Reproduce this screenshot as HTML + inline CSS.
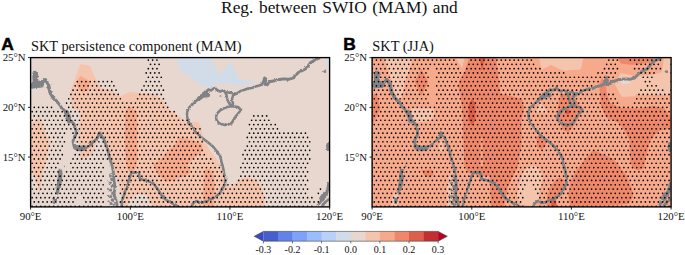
<!DOCTYPE html>
<html><head><meta charset="utf-8"><title>Reg. between SWIO (MAM) and SKT</title>
<style>
html,body{margin:0;padding:0;background:#fff;}
body{width:685px;height:255px;overflow:hidden;}
svg{display:block;}
text{font-family:"Liberation Serif","DejaVu Serif",serif;fill:#111;}
.tk{font-size:10.8px;}
.cb{font-size:10px;}
.ttl{font-size:16.7px;word-spacing:1.2px;}
.pt{font-size:14.35px;}
.lab{font-family:"Liberation Sans","DejaVu Sans",sans-serif;font-weight:bold;font-size:17.4px;fill:#000;stroke:#000;stroke-width:0.5px;}
</style></head>
<body>
<svg width="685" height="255" viewBox="0 0 685 255">
<defs>
<pattern id="dots" x="-6.585" y="60.040" width="4.3035" height="8.6" patternUnits="userSpaceOnUse">
<circle cx="0" cy="0" r="0.84" fill="#000"/><circle cx="4.3035" cy="0" r="0.84" fill="#000"/>
<circle cx="0" cy="8.6" r="0.84" fill="#000"/><circle cx="4.3035" cy="8.6" r="0.84" fill="#000"/>
<circle cx="2.15175" cy="4.3" r="0.84" fill="#000"/>
</pattern>
<filter id="rough" x="-5%" y="-5%" width="110%" height="110%"><feTurbulence type="fractalNoise" baseFrequency="0.45" numOctaves="3" seed="3" result="n"/><feDisplacementMap in="SourceGraphic" in2="n" scale="2.6" xChannelSelector="R" yChannelSelector="G"/></filter>
<clipPath id="ca"><rect x="30.6" y="57.6" width="299.0" height="149.3"/></clipPath>
<clipPath id="cb"><rect x="372.1" y="57.6" width="299.0" height="149.3"/></clipPath>
</defs>
<rect width="685" height="255" fill="#fff"/>
<text transform="translate(221.1,13) scale(1.04,1)" x="0" y="0" class="ttl">Reg. between SWIO (MAM) and</text>
<text x="1.3" y="50" class="lab">A</text>
<text x="343.2" y="50" class="lab">B</text>
<text x="31" y="50.6" class="pt">SKT persistence component (MAM)</text>
<text x="372.3" y="50.6" class="pt">SKT (JJA)</text>
<g clip-path="url(#ca)">
<rect x="30.6" y="57.6" width="299.0" height="149.3" fill="#e7d7ce"/>
<path d="M176.7,56.0 L208.8,56.0 L219.8,74.5 L230.5,62.0 L239.5,78.9 L257.0,82.1 L239.5,86.2 L230.0,83.8 L217.6,84.0 L209.6,87.7 L200.0,84.7 L191.3,77.4 L180.4,71.6 Z" fill="#d2dbe8" />
<path d="M29.0,56.0 L33.8,56.0 L31.6,66.5 L29.0,66.5 Z" fill="#d2dbe8" />
<path d="M117.4,56.0 L123.6,56.0 L120.5,60.8 Z" fill="#d2dbe8" />
<path d="M324.3,56.5 L331.0,56.5 L331.0,72.5 L329.3,72.5 Z" fill="#d2dbe8" />
<path d="M80.4,64.0 L89.9,65.8 L94.2,76.0 L97.2,81.1 L100.3,87.7 L112.4,91.0 L120.0,96.5 L130.0,92.1 L146.4,93.2 L154.0,94.0 L162.8,100.6 L169.4,110.0 L181.1,117.4 L186.2,121.7 L198.6,121.7 L201.5,129.8 L202.0,133.4 L208.6,148.7 L213.0,155.0 L217.3,159.8 L222.8,170.8 L227.2,184.0 L230.5,187.2 L239.0,180.0 L245.9,176.9 L255.8,179.6 L262.4,188.3 L264.0,197.0 L264.6,208.0 L153.0,208.0 L146.4,195.0 L137.6,193.8 L130.0,199.0 L126.6,208.0 L122.2,208.0 L121.1,195.0 L117.9,179.6 L110.2,164.2 L105.8,151.0 L103.7,139.1 L99.7,132.8 L98.2,136.8 L95.0,146.0 L91.9,155.6 L86.0,157.5 L80.9,158.8 L80.0,153.3 L79.3,145.4 L78.5,137.6 L79.3,125.0 L80.0,118.8 L81.1,110.8 L72.3,108.6 L71.6,102.8 L70.1,94.0 L70.1,92.8 L73.8,81.8 Z" fill="#f5c4ac" />
<path d="M29.0,125.4 L40.2,117.1 L44.6,131.0 L49.7,142.7 L47.5,154.4 L44.6,168.0 L43.0,170.0 L39.9,193.2 L32.0,170.0 L29.0,165.0 Z" fill="#f5c4ac" />
<path d="M80.4,75.7 L90.6,81.5 L88.0,90.0 L82.5,92.5 L78.0,88.0 L76.5,82.0 Z" fill="#f7a98b" />
<path d="M130.0,106.4 L136.6,110.8 L137.5,130.0 L137.5,160.0 L136.0,168.0 L131.0,173.5 L127.0,168.0 L124.8,150.0 L124.8,125.0 L125.6,110.0 Z" fill="#f7a98b" />
<path d="M180.0,138.0 L193.2,140.0 L202.0,144.3 L203.0,151.0 L193.0,158.6 L188.0,165.0 L191.0,172.0 L186.0,176.0 L180.0,177.4 L172.0,180.5 L166.2,181.7 L158.0,175.0 L153.0,164.2 L159.6,160.0 L168.0,151.0 L175.0,144.3 Z" fill="#f7a98b" />
<path d="M204.0,170.0 L210.0,168.6 L214.0,176.0 L215.0,190.0 L213.0,208.0 L203.0,208.0 L203.5,185.0 Z" fill="#f7a98b" />
<g filter="url(#rough)">
<path d="M29.0,86.0 L33.0,85.0 L36.0,84.5 L40.5,84.3 L45.3,79.6 L48.4,84.4 L50.0,92.3 L53.1,97.8 L57.0,101.7 L59.0,104.0 L61.0,107.0 L64.0,110.0 L67.0,113.0 L68.5,117.0 L69.0,120.0 L72.0,122.0 L74.0,124.0 L75.0,127.0 L76.0,131.0 L76.2,134.4 L74.5,137.5 L73.0,140.7 L73.5,144.0 L74.0,146.5 L77.0,147.5 L80.0,148.5 L84.8,148.0 L88.8,146.2 L93.5,141.5 L97.4,138.3 L99.7,132.8 L101.0,135.0 L103.7,139.1 L105.5,144.0 L107.6,148.5 L108.5,153.0 L110.0,159.5 L112.0,165.0 L113.5,173.0 L114.0,180.0 L115.0,187.0 L114.0,195.0 L116.0,200.0 L117.5,208.0" fill="none" stroke="#808285" stroke-width="2.72" stroke-linejoin="round" stroke-linecap="round"/>
<path d="M35.3,73.6 L35.3,78.0 L35.8,84.0" fill="none" stroke="#808285" stroke-width="5.779999999999999" stroke-linejoin="round" stroke-linecap="round"/>
<path d="M33.0,85.2 L36.0,84.5 L40.5,84.3" fill="none" stroke="#808285" stroke-width="6.8" stroke-linejoin="round" stroke-linecap="round"/>
<path d="M40.5,84.3 L45.3,79.6 L48.4,84.4 L50.0,92.3 L53.1,97.8 L57.0,101.7" fill="none" stroke="#808285" stroke-width="3.23" stroke-linejoin="round" stroke-linecap="round"/>
<path d="M66.5,112.5 L68.5,117.0 L69.3,121.0" fill="none" stroke="#808285" stroke-width="5.1" stroke-linejoin="round" stroke-linecap="round"/>
<path d="M76.0,147.5 L80.0,148.6 L84.0,148.0" fill="none" stroke="#808285" stroke-width="5.44" stroke-linejoin="round" stroke-linecap="round"/>
<circle cx="110.5" cy="176" r="1.4" fill="#808285"/>
<circle cx="112.0" cy="179.5" r="1.7" fill="#808285"/>
<circle cx="110.0" cy="183" r="1.5" fill="#808285"/>
<circle cx="112.5" cy="186.5" r="1.8" fill="#808285"/>
<circle cx="110.5" cy="190" r="1.6" fill="#808285"/>
<circle cx="113.0" cy="193" r="1.8" fill="#808285"/>
<circle cx="110.8" cy="196.5" r="1.6" fill="#808285"/>
<circle cx="112.5" cy="200" r="1.8" fill="#808285"/>
<circle cx="111.0" cy="203.5" r="1.6" fill="#808285"/>
<circle cx="113.8" cy="204.5" r="1.3" fill="#808285"/>
<circle cx="108.0" cy="189" r="1.0" fill="#808285"/>
<circle cx="108.3" cy="196" r="1.1" fill="#808285"/>
<circle cx="108.6" cy="201.5" r="1.1" fill="#808285"/>
<circle cx="115.0" cy="183" r="1.1" fill="#808285"/>
<circle cx="115.5" cy="190" r="1.0" fill="#808285"/>
<circle cx="107.8" cy="182" r="0.8" fill="#808285"/>
<circle cx="114.0" cy="176.5" r="1.0" fill="#808285"/>
<circle cx="115.5" cy="197" r="0.9" fill="#808285"/>
<path d="M121.1,208.0 L122.3,200.0 L124.3,194.0 L126.4,188.3 L128.6,181.0 L130.2,176.0 L131.6,172.6 L136.0,172.2 L139.0,172.6 L139.4,176.0 L140.0,179.2 L144.0,180.0 L149.4,181.6 L153.0,183.0 L155.5,186.3 L159.0,191.0 L161.6,195.5 L164.5,198.5 L167.7,200.9 L171.5,203.0 L175.4,204.7 L180.0,208.0" fill="none" stroke="#808285" stroke-width="2.55" stroke-linejoin="round" stroke-linecap="round"/>
<path d="M190.7,208.0 L193.5,203.0 L196.8,200.9 L200.0,203.0 L202.9,202.4 L208.6,200.4 L215.1,197.0 L219.5,193.8 L222.0,189.4 L225.0,184.0 L225.1,177.2 L224.0,173.0 L223.0,167.0 L221.7,163.0 L220.6,157.5 L217.0,151.5 L213.0,146.5 L207.5,142.0 L202.0,137.7 L198.0,134.0 L195.0,131.0 L192.8,127.6 L190.0,124.0 L188.4,121.7 L186.9,115.9 L187.2,112.0 L188.4,108.6 L190.5,106.0 L192.8,104.2 L196.0,101.0 L198.6,99.1 L201.0,96.0 L203.0,93.5 L206.0,92.0 L208.5,89.5 L211.0,90.5 L214.7,87.7 L217.0,90.0 L220.0,91.5 L223.0,90.5 L226.0,92.5 L230.0,92.5" fill="none" stroke="#808285" stroke-width="2.55" stroke-linejoin="round" stroke-linecap="round"/>
<path d="M199.0,98.5 L203.0,95.5 L208.0,95.0" fill="none" stroke="#808285" stroke-width="4.42" stroke-linejoin="round" stroke-linecap="round"/>
<path d="M224.5,91.0 L226.5,95.0 L227.5,100.0 L229.5,104.0 L231.5,105.5 L233.0,104.0 L232.0,99.0 L233.0,95.5 L237.0,93.3" fill="none" stroke="#808285" stroke-width="2.55" stroke-linejoin="round" stroke-linecap="round"/>
<path d="M230.0,92.5 L233.5,93.5 L237.0,93.5 L240.5,91.0 L244.6,89.8 L248.0,88.5 L252.0,88.0 L255.5,86.5 L259.2,85.5 L262.0,84.5" fill="none" stroke="#808285" stroke-width="2.72" stroke-linejoin="round" stroke-linecap="round"/>
<path d="M262.0,84.5 L263.5,81.0 L264.8,77.5 L266.0,79.0 L265.5,82.5 L267.3,85.0 L268.5,83.0 L270.0,81.5" fill="none" stroke="#808285" stroke-width="2.55" stroke-linejoin="round" stroke-linecap="round"/>
<path d="M264.8,78.5 L265.5,84.5" fill="none" stroke="#808285" stroke-width="3.23" stroke-linejoin="round" stroke-linecap="round"/>
<path d="M270.0,81.5 L273.8,81.0 L277.0,79.5 L280.5,79.3 L284.0,78.9 L288.0,79.3 L292.8,78.2 L295.5,75.5 L298.6,72.3 L302.0,70.8 L305.9,68.7 L308.5,65.5 L310.3,62.8 L314.0,60.5 L319.0,58.3" fill="none" stroke="#808285" stroke-width="2.8899999999999997" stroke-linejoin="round" stroke-linecap="round"/>
<circle cx="220.5" cy="96.2" r="0.9" fill="#808285"/>
<path d="M230.0,106.5 L234.0,106.6 L238.0,107.0 L241.0,110.0 L238.5,113.0 L236.0,116.0 L233.5,120.0 L231.5,123.2 L228.0,124.5 L225.0,125.0 L221.0,124.0 L218.3,122.5 L216.5,120.0 L216.1,117.4 L216.5,115.0 L217.6,113.0 L220.0,110.5 L223.4,108.6 L227.0,107.0 Z" fill="none" stroke="#808285" stroke-width="2.55" stroke-linejoin="round" stroke-linecap="round"/>
<ellipse cx="324.9" cy="71.6" rx="1.6" ry="1.3" fill="#808285"/>
<path d="M328.3,143.5 L327.6,147.0 L328.5,150.5" fill="none" stroke="#808285" stroke-width="3.06" stroke-linejoin="round" stroke-linecap="round"/>
<path d="M318.5,204.0 L321.0,200.5 L323.5,197.0 L326.0,194.0 L328.0,189.0 L328.8,184.0" fill="none" stroke="#808285" stroke-width="3.4" stroke-linejoin="round" stroke-linecap="round"/>
<path d="M322.0,198.5 L325.0,194.5" fill="none" stroke="#808285" stroke-width="5.44" stroke-linejoin="round" stroke-linecap="round"/>
<path d="M322.5,205.5 L325.5,202.0 L328.5,199.5" fill="none" stroke="#808285" stroke-width="2.72" stroke-linejoin="round" stroke-linecap="round"/>
<circle cx="319.3" cy="200.3" r="1.1" fill="#f5c4ac"/>
<path d="M60.1,170.5 L59.8,176.0 L59.2,182.0 L58.2,188.0 L57.2,193.0" fill="none" stroke="#808285" stroke-width="3.4" stroke-linejoin="round" stroke-linecap="round"/>
<path d="M60.3,172.0 L59.8,180.0 L58.8,186.0" fill="none" stroke="#808285" stroke-width="4.42" stroke-linejoin="round" stroke-linecap="round"/>
<path d="M54.5,199.8 L54.2,202.5" fill="none" stroke="#808285" stroke-width="2.72" stroke-linejoin="round" stroke-linecap="round"/>
<circle cx="64.0" cy="166.4" r="0.8" fill="#808285"/>
<path d="M54.6,199.5 L54.2,202.3" fill="none" stroke="#808285" stroke-width="3.4" stroke-linejoin="round" stroke-linecap="round"/>
</g>
<path d="M148.34,60.04h0M152.64,60.04h0M156.95,60.04h0M150.49,64.34h0M154.80,64.34h0M159.10,64.34h0M148.34,68.64h0M152.64,68.64h0M156.95,68.64h0M146.19,72.94h0M150.49,72.94h0M154.80,72.94h0M159.10,72.94h0M148.34,77.24h0M152.64,77.24h0M156.95,77.24h0M161.25,77.24h0M77.33,81.54h0M81.64,81.54h0M85.94,81.54h0M90.24,81.54h0M94.55,81.54h0M98.85,81.54h0M103.15,81.54h0M107.46,81.54h0M111.76,81.54h0M146.19,81.54h0M150.49,81.54h0M154.80,81.54h0M159.10,81.54h0M75.18,85.84h0M79.48,85.84h0M83.79,85.84h0M88.09,85.84h0M92.40,85.84h0M96.70,85.84h0M101.00,85.84h0M105.31,85.84h0M109.61,85.84h0M113.91,85.84h0M144.04,85.84h0M148.34,85.84h0M152.64,85.84h0M156.95,85.84h0M161.25,85.84h0M73.03,90.14h0M77.33,90.14h0M81.64,90.14h0M85.94,90.14h0M90.24,90.14h0M94.55,90.14h0M98.85,90.14h0M103.15,90.14h0M107.46,90.14h0M111.76,90.14h0M116.06,90.14h0M141.89,90.14h0M146.19,90.14h0M150.49,90.14h0M154.80,90.14h0M159.10,90.14h0M163.40,90.14h0M70.88,94.44h0M75.18,94.44h0M79.48,94.44h0M83.79,94.44h0M88.09,94.44h0M92.40,94.44h0M96.70,94.44h0M101.00,94.44h0M105.31,94.44h0M109.61,94.44h0M113.91,94.44h0M118.22,94.44h0M139.73,94.44h0M144.04,94.44h0M148.34,94.44h0M152.64,94.44h0M156.95,94.44h0M161.25,94.44h0M68.73,98.74h0M73.03,98.74h0M77.33,98.74h0M81.64,98.74h0M85.94,98.74h0M90.24,98.74h0M94.55,98.74h0M98.85,98.74h0M103.15,98.74h0M107.46,98.74h0M111.76,98.74h0M116.06,98.74h0M120.37,98.74h0M137.58,98.74h0M141.89,98.74h0M146.19,98.74h0M150.49,98.74h0M154.80,98.74h0M159.10,98.74h0M163.40,98.74h0M66.57,103.04h0M70.88,103.04h0M75.18,103.04h0M79.48,103.04h0M83.79,103.04h0M88.09,103.04h0M92.40,103.04h0M96.70,103.04h0M101.00,103.04h0M105.31,103.04h0M109.61,103.04h0M113.91,103.04h0M118.22,103.04h0M122.52,103.04h0M126.82,103.04h0M131.13,103.04h0M135.43,103.04h0M139.73,103.04h0M144.04,103.04h0M148.34,103.04h0M152.64,103.04h0M156.95,103.04h0M161.25,103.04h0M165.56,103.04h0M29.99,107.34h0M34.30,107.34h0M38.60,107.34h0M42.91,107.34h0M47.21,107.34h0M51.51,107.34h0M68.73,107.34h0M73.03,107.34h0M77.33,107.34h0M81.64,107.34h0M85.94,107.34h0M90.24,107.34h0M94.55,107.34h0M98.85,107.34h0M103.15,107.34h0M107.46,107.34h0M111.76,107.34h0M116.06,107.34h0M120.37,107.34h0M124.67,107.34h0M128.98,107.34h0M133.28,107.34h0M137.58,107.34h0M141.89,107.34h0M146.19,107.34h0M150.49,107.34h0M154.80,107.34h0M159.10,107.34h0M163.40,107.34h0M167.71,107.34h0M32.15,111.64h0M36.45,111.64h0M40.75,111.64h0M45.06,111.64h0M49.36,111.64h0M53.66,111.64h0M57.97,111.64h0M62.27,111.64h0M66.57,111.64h0M70.88,111.64h0M75.18,111.64h0M79.48,111.64h0M83.79,111.64h0M88.09,111.64h0M92.40,111.64h0M96.70,111.64h0M101.00,111.64h0M105.31,111.64h0M109.61,111.64h0M113.91,111.64h0M118.22,111.64h0M122.52,111.64h0M126.82,111.64h0M131.13,111.64h0M135.43,111.64h0M139.73,111.64h0M144.04,111.64h0M148.34,111.64h0M152.64,111.64h0M156.95,111.64h0M161.25,111.64h0M165.56,111.64h0M169.86,111.64h0M174.16,111.64h0M29.99,115.94h0M34.30,115.94h0M38.60,115.94h0M42.91,115.94h0M47.21,115.94h0M51.51,115.94h0M55.82,115.94h0M60.12,115.94h0M64.42,115.94h0M68.73,115.94h0M73.03,115.94h0M77.33,115.94h0M81.64,115.94h0M85.94,115.94h0M90.24,115.94h0M94.55,115.94h0M98.85,115.94h0M103.15,115.94h0M107.46,115.94h0M111.76,115.94h0M116.06,115.94h0M120.37,115.94h0M124.67,115.94h0M128.98,115.94h0M133.28,115.94h0M137.58,115.94h0M141.89,115.94h0M146.19,115.94h0M150.49,115.94h0M154.80,115.94h0M159.10,115.94h0M163.40,115.94h0M167.71,115.94h0M172.01,115.94h0M176.31,115.94h0M253.78,115.94h0M258.08,115.94h0M262.38,115.94h0M266.69,115.94h0M32.15,120.24h0M36.45,120.24h0M40.75,120.24h0M45.06,120.24h0M49.36,120.24h0M53.66,120.24h0M57.97,120.24h0M62.27,120.24h0M66.57,120.24h0M70.88,120.24h0M75.18,120.24h0M79.48,120.24h0M83.79,120.24h0M88.09,120.24h0M92.40,120.24h0M96.70,120.24h0M101.00,120.24h0M105.31,120.24h0M109.61,120.24h0M113.91,120.24h0M118.22,120.24h0M122.52,120.24h0M126.82,120.24h0M131.13,120.24h0M135.43,120.24h0M139.73,120.24h0M144.04,120.24h0M148.34,120.24h0M152.64,120.24h0M156.95,120.24h0M161.25,120.24h0M165.56,120.24h0M169.86,120.24h0M174.16,120.24h0M178.47,120.24h0M182.77,120.24h0M187.07,120.24h0M251.62,120.24h0M255.93,120.24h0M260.23,120.24h0M264.54,120.24h0M268.84,120.24h0M29.99,124.54h0M34.30,124.54h0M38.60,124.54h0M42.91,124.54h0M47.21,124.54h0M51.51,124.54h0M55.82,124.54h0M60.12,124.54h0M64.42,124.54h0M68.73,124.54h0M73.03,124.54h0M77.33,124.54h0M81.64,124.54h0M85.94,124.54h0M90.24,124.54h0M94.55,124.54h0M98.85,124.54h0M103.15,124.54h0M107.46,124.54h0M111.76,124.54h0M116.06,124.54h0M120.37,124.54h0M124.67,124.54h0M128.98,124.54h0M133.28,124.54h0M137.58,124.54h0M141.89,124.54h0M146.19,124.54h0M150.49,124.54h0M154.80,124.54h0M159.10,124.54h0M163.40,124.54h0M167.71,124.54h0M172.01,124.54h0M176.31,124.54h0M180.62,124.54h0M184.92,124.54h0M189.22,124.54h0M249.47,124.54h0M253.78,124.54h0M258.08,124.54h0M262.38,124.54h0M266.69,124.54h0M270.99,124.54h0M275.29,124.54h0M32.15,128.84h0M36.45,128.84h0M40.75,128.84h0M45.06,128.84h0M49.36,128.84h0M53.66,128.84h0M57.97,128.84h0M62.27,128.84h0M66.57,128.84h0M70.88,128.84h0M75.18,128.84h0M79.48,128.84h0M83.79,128.84h0M88.09,128.84h0M92.40,128.84h0M96.70,128.84h0M101.00,128.84h0M105.31,128.84h0M109.61,128.84h0M113.91,128.84h0M118.22,128.84h0M122.52,128.84h0M126.82,128.84h0M131.13,128.84h0M135.43,128.84h0M139.73,128.84h0M144.04,128.84h0M148.34,128.84h0M152.64,128.84h0M156.95,128.84h0M161.25,128.84h0M165.56,128.84h0M169.86,128.84h0M174.16,128.84h0M178.47,128.84h0M182.77,128.84h0M187.07,128.84h0M191.38,128.84h0M195.68,128.84h0M199.98,128.84h0M251.62,128.84h0M255.93,128.84h0M260.23,128.84h0M264.54,128.84h0M268.84,128.84h0M273.14,128.84h0M277.45,128.84h0M29.99,133.14h0M34.30,133.14h0M38.60,133.14h0M42.91,133.14h0M47.21,133.14h0M51.51,133.14h0M55.82,133.14h0M60.12,133.14h0M64.42,133.14h0M73.03,133.14h0M77.33,133.14h0M81.64,133.14h0M85.94,133.14h0M90.24,133.14h0M94.55,133.14h0M98.85,133.14h0M103.15,133.14h0M107.46,133.14h0M111.76,133.14h0M116.06,133.14h0M120.37,133.14h0M124.67,133.14h0M128.98,133.14h0M133.28,133.14h0M137.58,133.14h0M141.89,133.14h0M146.19,133.14h0M150.49,133.14h0M154.80,133.14h0M159.10,133.14h0M163.40,133.14h0M167.71,133.14h0M172.01,133.14h0M176.31,133.14h0M180.62,133.14h0M184.92,133.14h0M189.22,133.14h0M193.53,133.14h0M197.83,133.14h0M249.47,133.14h0M253.78,133.14h0M258.08,133.14h0M262.38,133.14h0M266.69,133.14h0M270.99,133.14h0M275.29,133.14h0M279.60,133.14h0M283.90,133.14h0M288.20,133.14h0M292.51,133.14h0M296.81,133.14h0M301.12,133.14h0M305.42,133.14h0M32.15,137.44h0M36.45,137.44h0M40.75,137.44h0M45.06,137.44h0M49.36,137.44h0M53.66,137.44h0M57.97,137.44h0M62.27,137.44h0M75.18,137.44h0M79.48,137.44h0M83.79,137.44h0M88.09,137.44h0M92.40,137.44h0M96.70,137.44h0M101.00,137.44h0M105.31,137.44h0M109.61,137.44h0M113.91,137.44h0M118.22,137.44h0M122.52,137.44h0M126.82,137.44h0M131.13,137.44h0M135.43,137.44h0M139.73,137.44h0M144.04,137.44h0M148.34,137.44h0M152.64,137.44h0M156.95,137.44h0M161.25,137.44h0M165.56,137.44h0M169.86,137.44h0M174.16,137.44h0M178.47,137.44h0M182.77,137.44h0M187.07,137.44h0M191.38,137.44h0M195.68,137.44h0M199.98,137.44h0M247.32,137.44h0M251.62,137.44h0M255.93,137.44h0M260.23,137.44h0M264.54,137.44h0M268.84,137.44h0M273.14,137.44h0M277.45,137.44h0M281.75,137.44h0M286.05,137.44h0M290.36,137.44h0M294.66,137.44h0M298.96,137.44h0M303.27,137.44h0M307.57,137.44h0M29.99,141.74h0M34.30,141.74h0M38.60,141.74h0M42.91,141.74h0M47.21,141.74h0M51.51,141.74h0M55.82,141.74h0M60.12,141.74h0M64.42,141.74h0M77.33,141.74h0M81.64,141.74h0M85.94,141.74h0M90.24,141.74h0M94.55,141.74h0M98.85,141.74h0M103.15,141.74h0M107.46,141.74h0M111.76,141.74h0M116.06,141.74h0M120.37,141.74h0M124.67,141.74h0M128.98,141.74h0M133.28,141.74h0M137.58,141.74h0M141.89,141.74h0M146.19,141.74h0M150.49,141.74h0M154.80,141.74h0M159.10,141.74h0M163.40,141.74h0M167.71,141.74h0M172.01,141.74h0M176.31,141.74h0M180.62,141.74h0M184.92,141.74h0M189.22,141.74h0M193.53,141.74h0M197.83,141.74h0M202.13,141.74h0M249.47,141.74h0M253.78,141.74h0M258.08,141.74h0M262.38,141.74h0M266.69,141.74h0M270.99,141.74h0M275.29,141.74h0M279.60,141.74h0M283.90,141.74h0M288.20,141.74h0M292.51,141.74h0M296.81,141.74h0M301.12,141.74h0M305.42,141.74h0M309.72,141.74h0M32.15,146.04h0M36.45,146.04h0M40.75,146.04h0M45.06,146.04h0M49.36,146.04h0M53.66,146.04h0M57.97,146.04h0M62.27,146.04h0M79.48,146.04h0M83.79,146.04h0M88.09,146.04h0M92.40,146.04h0M96.70,146.04h0M101.00,146.04h0M105.31,146.04h0M109.61,146.04h0M113.91,146.04h0M118.22,146.04h0M122.52,146.04h0M126.82,146.04h0M131.13,146.04h0M135.43,146.04h0M139.73,146.04h0M144.04,146.04h0M148.34,146.04h0M152.64,146.04h0M156.95,146.04h0M161.25,146.04h0M165.56,146.04h0M169.86,146.04h0M174.16,146.04h0M178.47,146.04h0M182.77,146.04h0M187.07,146.04h0M191.38,146.04h0M195.68,146.04h0M199.98,146.04h0M247.32,146.04h0M251.62,146.04h0M255.93,146.04h0M260.23,146.04h0M264.54,146.04h0M268.84,146.04h0M273.14,146.04h0M277.45,146.04h0M281.75,146.04h0M286.05,146.04h0M290.36,146.04h0M294.66,146.04h0M298.96,146.04h0M303.27,146.04h0M307.57,146.04h0M29.99,150.34h0M34.30,150.34h0M38.60,150.34h0M42.91,150.34h0M47.21,150.34h0M51.51,150.34h0M55.82,150.34h0M60.12,150.34h0M77.33,150.34h0M81.64,150.34h0M85.94,150.34h0M90.24,150.34h0M94.55,150.34h0M98.85,150.34h0M103.15,150.34h0M107.46,150.34h0M111.76,150.34h0M116.06,150.34h0M120.37,150.34h0M124.67,150.34h0M128.98,150.34h0M133.28,150.34h0M137.58,150.34h0M141.89,150.34h0M146.19,150.34h0M150.49,150.34h0M154.80,150.34h0M159.10,150.34h0M163.40,150.34h0M167.71,150.34h0M172.01,150.34h0M176.31,150.34h0M180.62,150.34h0M184.92,150.34h0M189.22,150.34h0M193.53,150.34h0M197.83,150.34h0M202.13,150.34h0M245.17,150.34h0M249.47,150.34h0M253.78,150.34h0M258.08,150.34h0M262.38,150.34h0M266.69,150.34h0M270.99,150.34h0M275.29,150.34h0M279.60,150.34h0M283.90,150.34h0M288.20,150.34h0M292.51,150.34h0M296.81,150.34h0M301.12,150.34h0M305.42,150.34h0M309.72,150.34h0M32.15,154.64h0M36.45,154.64h0M40.75,154.64h0M45.06,154.64h0M49.36,154.64h0M53.66,154.64h0M57.97,154.64h0M62.27,154.64h0M75.18,154.64h0M79.48,154.64h0M83.79,154.64h0M88.09,154.64h0M92.40,154.64h0M96.70,154.64h0M101.00,154.64h0M105.31,154.64h0M109.61,154.64h0M113.91,154.64h0M118.22,154.64h0M122.52,154.64h0M126.82,154.64h0M131.13,154.64h0M135.43,154.64h0M139.73,154.64h0M144.04,154.64h0M148.34,154.64h0M152.64,154.64h0M156.95,154.64h0M161.25,154.64h0M165.56,154.64h0M169.86,154.64h0M174.16,154.64h0M178.47,154.64h0M182.77,154.64h0M187.07,154.64h0M191.38,154.64h0M195.68,154.64h0M199.98,154.64h0M204.29,154.64h0M243.02,154.64h0M247.32,154.64h0M251.62,154.64h0M255.93,154.64h0M260.23,154.64h0M264.54,154.64h0M268.84,154.64h0M273.14,154.64h0M277.45,154.64h0M281.75,154.64h0M286.05,154.64h0M290.36,154.64h0M294.66,154.64h0M298.96,154.64h0M303.27,154.64h0M307.57,154.64h0M29.99,158.94h0M34.30,158.94h0M38.60,158.94h0M42.91,158.94h0M47.21,158.94h0M51.51,158.94h0M55.82,158.94h0M60.12,158.94h0M73.03,158.94h0M77.33,158.94h0M81.64,158.94h0M85.94,158.94h0M90.24,158.94h0M94.55,158.94h0M98.85,158.94h0M103.15,158.94h0M107.46,158.94h0M111.76,158.94h0M116.06,158.94h0M120.37,158.94h0M124.67,158.94h0M128.98,158.94h0M133.28,158.94h0M137.58,158.94h0M141.89,158.94h0M146.19,158.94h0M150.49,158.94h0M154.80,158.94h0M159.10,158.94h0M163.40,158.94h0M167.71,158.94h0M172.01,158.94h0M176.31,158.94h0M180.62,158.94h0M184.92,158.94h0M189.22,158.94h0M193.53,158.94h0M197.83,158.94h0M202.13,158.94h0M206.44,158.94h0M210.74,158.94h0M245.17,158.94h0M249.47,158.94h0M253.78,158.94h0M258.08,158.94h0M262.38,158.94h0M266.69,158.94h0M270.99,158.94h0M275.29,158.94h0M279.60,158.94h0M283.90,158.94h0M288.20,158.94h0M292.51,158.94h0M296.81,158.94h0M301.12,158.94h0M305.42,158.94h0M309.72,158.94h0M32.15,163.24h0M36.45,163.24h0M40.75,163.24h0M45.06,163.24h0M49.36,163.24h0M53.66,163.24h0M57.97,163.24h0M70.88,163.24h0M75.18,163.24h0M79.48,163.24h0M83.79,163.24h0M88.09,163.24h0M92.40,163.24h0M96.70,163.24h0M101.00,163.24h0M113.91,163.24h0M118.22,163.24h0M122.52,163.24h0M126.82,163.24h0M131.13,163.24h0M135.43,163.24h0M139.73,163.24h0M144.04,163.24h0M148.34,163.24h0M152.64,163.24h0M156.95,163.24h0M161.25,163.24h0M165.56,163.24h0M169.86,163.24h0M174.16,163.24h0M178.47,163.24h0M182.77,163.24h0M187.07,163.24h0M191.38,163.24h0M195.68,163.24h0M199.98,163.24h0M204.29,163.24h0M208.59,163.24h0M212.89,163.24h0M243.02,163.24h0M247.32,163.24h0M251.62,163.24h0M255.93,163.24h0M260.23,163.24h0M264.54,163.24h0M268.84,163.24h0M273.14,163.24h0M277.45,163.24h0M281.75,163.24h0M286.05,163.24h0M290.36,163.24h0M294.66,163.24h0M298.96,163.24h0M303.27,163.24h0M307.57,163.24h0M29.99,167.54h0M34.30,167.54h0M38.60,167.54h0M42.91,167.54h0M47.21,167.54h0M51.51,167.54h0M55.82,167.54h0M73.03,167.54h0M77.33,167.54h0M81.64,167.54h0M85.94,167.54h0M90.24,167.54h0M94.55,167.54h0M98.85,167.54h0M103.15,167.54h0M116.06,167.54h0M120.37,167.54h0M124.67,167.54h0M128.98,167.54h0M133.28,167.54h0M137.58,167.54h0M141.89,167.54h0M146.19,167.54h0M150.49,167.54h0M154.80,167.54h0M159.10,167.54h0M163.40,167.54h0M167.71,167.54h0M172.01,167.54h0M176.31,167.54h0M180.62,167.54h0M184.92,167.54h0M189.22,167.54h0M193.53,167.54h0M197.83,167.54h0M202.13,167.54h0M206.44,167.54h0M210.74,167.54h0M215.05,167.54h0M219.35,167.54h0M240.87,167.54h0M245.17,167.54h0M249.47,167.54h0M253.78,167.54h0M258.08,167.54h0M262.38,167.54h0M266.69,167.54h0M270.99,167.54h0M275.29,167.54h0M279.60,167.54h0M283.90,167.54h0M288.20,167.54h0M292.51,167.54h0M296.81,167.54h0M301.12,167.54h0M305.42,167.54h0M32.15,171.84h0M36.45,171.84h0M40.75,171.84h0M45.06,171.84h0M49.36,171.84h0M53.66,171.84h0M57.97,171.84h0M66.57,171.84h0M70.88,171.84h0M75.18,171.84h0M79.48,171.84h0M83.79,171.84h0M88.09,171.84h0M92.40,171.84h0M96.70,171.84h0M101.00,171.84h0M118.22,171.84h0M122.52,171.84h0M126.82,171.84h0M131.13,171.84h0M135.43,171.84h0M139.73,171.84h0M144.04,171.84h0M148.34,171.84h0M152.64,171.84h0M156.95,171.84h0M161.25,171.84h0M165.56,171.84h0M169.86,171.84h0M174.16,171.84h0M178.47,171.84h0M182.77,171.84h0M187.07,171.84h0M191.38,171.84h0M195.68,171.84h0M199.98,171.84h0M204.29,171.84h0M208.59,171.84h0M212.89,171.84h0M217.20,171.84h0M221.50,171.84h0M243.02,171.84h0M247.32,171.84h0M251.62,171.84h0M255.93,171.84h0M260.23,171.84h0M264.54,171.84h0M268.84,171.84h0M273.14,171.84h0M277.45,171.84h0M281.75,171.84h0M286.05,171.84h0M290.36,171.84h0M294.66,171.84h0M298.96,171.84h0M303.27,171.84h0M307.57,171.84h0M29.99,176.14h0M34.30,176.14h0M38.60,176.14h0M42.91,176.14h0M47.21,176.14h0M51.51,176.14h0M55.82,176.14h0M60.12,176.14h0M64.42,176.14h0M68.73,176.14h0M73.03,176.14h0M77.33,176.14h0M81.64,176.14h0M85.94,176.14h0M90.24,176.14h0M94.55,176.14h0M98.85,176.14h0M103.15,176.14h0M116.06,176.14h0M120.37,176.14h0M124.67,176.14h0M128.98,176.14h0M133.28,176.14h0M137.58,176.14h0M141.89,176.14h0M146.19,176.14h0M150.49,176.14h0M154.80,176.14h0M159.10,176.14h0M163.40,176.14h0M167.71,176.14h0M172.01,176.14h0M176.31,176.14h0M180.62,176.14h0M184.92,176.14h0M189.22,176.14h0M193.53,176.14h0M197.83,176.14h0M202.13,176.14h0M206.44,176.14h0M210.74,176.14h0M215.05,176.14h0M219.35,176.14h0M223.65,176.14h0M240.87,176.14h0M245.17,176.14h0M249.47,176.14h0M253.78,176.14h0M258.08,176.14h0M262.38,176.14h0M266.69,176.14h0M270.99,176.14h0M275.29,176.14h0M279.60,176.14h0M283.90,176.14h0M288.20,176.14h0M292.51,176.14h0M296.81,176.14h0M301.12,176.14h0M305.42,176.14h0M32.15,180.44h0M36.45,180.44h0M40.75,180.44h0M45.06,180.44h0M49.36,180.44h0M53.66,180.44h0M57.97,180.44h0M62.27,180.44h0M66.57,180.44h0M70.88,180.44h0M75.18,180.44h0M79.48,180.44h0M83.79,180.44h0M88.09,180.44h0M92.40,180.44h0M96.70,180.44h0M101.00,180.44h0M118.22,180.44h0M122.52,180.44h0M126.82,180.44h0M131.13,180.44h0M135.43,180.44h0M139.73,180.44h0M144.04,180.44h0M148.34,180.44h0M152.64,180.44h0M156.95,180.44h0M161.25,180.44h0M165.56,180.44h0M169.86,180.44h0M174.16,180.44h0M178.47,180.44h0M182.77,180.44h0M187.07,180.44h0M191.38,180.44h0M195.68,180.44h0M199.98,180.44h0M204.29,180.44h0M208.59,180.44h0M212.89,180.44h0M217.20,180.44h0M221.50,180.44h0M225.80,180.44h0M238.71,180.44h0M243.02,180.44h0M247.32,180.44h0M251.62,180.44h0M255.93,180.44h0M260.23,180.44h0M264.54,180.44h0M268.84,180.44h0M273.14,180.44h0M277.45,180.44h0M281.75,180.44h0M286.05,180.44h0M290.36,180.44h0M294.66,180.44h0M298.96,180.44h0M303.27,180.44h0M307.57,180.44h0M29.99,184.74h0M34.30,184.74h0M38.60,184.74h0M42.91,184.74h0M47.21,184.74h0M51.51,184.74h0M55.82,184.74h0M60.12,184.74h0M64.42,184.74h0M68.73,184.74h0M73.03,184.74h0M77.33,184.74h0M81.64,184.74h0M85.94,184.74h0M90.24,184.74h0M94.55,184.74h0M98.85,184.74h0M103.15,184.74h0M120.37,184.74h0M124.67,184.74h0M128.98,184.74h0M133.28,184.74h0M137.58,184.74h0M141.89,184.74h0M146.19,184.74h0M150.49,184.74h0M154.80,184.74h0M159.10,184.74h0M163.40,184.74h0M167.71,184.74h0M172.01,184.74h0M176.31,184.74h0M180.62,184.74h0M184.92,184.74h0M189.22,184.74h0M193.53,184.74h0M197.83,184.74h0M202.13,184.74h0M206.44,184.74h0M210.74,184.74h0M215.05,184.74h0M219.35,184.74h0M223.65,184.74h0M227.96,184.74h0M232.26,184.74h0M236.56,184.74h0M240.87,184.74h0M245.17,184.74h0M249.47,184.74h0M253.78,184.74h0M258.08,184.74h0M262.38,184.74h0M266.69,184.74h0M270.99,184.74h0M275.29,184.74h0M279.60,184.74h0M283.90,184.74h0M288.20,184.74h0M292.51,184.74h0M296.81,184.74h0M301.12,184.74h0M305.42,184.74h0M32.15,189.04h0M36.45,189.04h0M40.75,189.04h0M45.06,189.04h0M49.36,189.04h0M53.66,189.04h0M57.97,189.04h0M62.27,189.04h0M66.57,189.04h0M70.88,189.04h0M75.18,189.04h0M79.48,189.04h0M83.79,189.04h0M88.09,189.04h0M92.40,189.04h0M96.70,189.04h0M101.00,189.04h0M122.52,189.04h0M126.82,189.04h0M131.13,189.04h0M135.43,189.04h0M139.73,189.04h0M144.04,189.04h0M148.34,189.04h0M152.64,189.04h0M156.95,189.04h0M161.25,189.04h0M165.56,189.04h0M169.86,189.04h0M174.16,189.04h0M178.47,189.04h0M182.77,189.04h0M187.07,189.04h0M191.38,189.04h0M195.68,189.04h0M199.98,189.04h0M204.29,189.04h0M208.59,189.04h0M212.89,189.04h0M217.20,189.04h0M221.50,189.04h0M225.80,189.04h0M230.11,189.04h0M234.41,189.04h0M238.71,189.04h0M243.02,189.04h0M247.32,189.04h0M251.62,189.04h0M255.93,189.04h0M260.23,189.04h0M264.54,189.04h0M268.84,189.04h0M273.14,189.04h0M277.45,189.04h0M281.75,189.04h0M286.05,189.04h0M290.36,189.04h0M294.66,189.04h0M298.96,189.04h0M303.27,189.04h0M307.57,189.04h0M320.48,189.04h0M29.99,193.34h0M34.30,193.34h0M38.60,193.34h0M42.91,193.34h0M47.21,193.34h0M51.51,193.34h0M55.82,193.34h0M60.12,193.34h0M64.42,193.34h0M68.73,193.34h0M73.03,193.34h0M77.33,193.34h0M81.64,193.34h0M85.94,193.34h0M90.24,193.34h0M94.55,193.34h0M98.85,193.34h0M103.15,193.34h0M120.37,193.34h0M124.67,193.34h0M128.98,193.34h0M133.28,193.34h0M137.58,193.34h0M141.89,193.34h0M146.19,193.34h0M150.49,193.34h0M154.80,193.34h0M159.10,193.34h0M163.40,193.34h0M167.71,193.34h0M172.01,193.34h0M176.31,193.34h0M180.62,193.34h0M184.92,193.34h0M189.22,193.34h0M193.53,193.34h0M197.83,193.34h0M202.13,193.34h0M206.44,193.34h0M210.74,193.34h0M215.05,193.34h0M219.35,193.34h0M223.65,193.34h0M227.96,193.34h0M232.26,193.34h0M236.56,193.34h0M240.87,193.34h0M245.17,193.34h0M249.47,193.34h0M253.78,193.34h0M258.08,193.34h0M262.38,193.34h0M266.69,193.34h0M270.99,193.34h0M275.29,193.34h0M279.60,193.34h0M283.90,193.34h0M288.20,193.34h0M292.51,193.34h0M296.81,193.34h0M301.12,193.34h0M305.42,193.34h0M318.33,193.34h0M32.15,197.64h0M36.45,197.64h0M40.75,197.64h0M45.06,197.64h0M49.36,197.64h0M53.66,197.64h0M57.97,197.64h0M62.27,197.64h0M66.57,197.64h0M70.88,197.64h0M75.18,197.64h0M83.79,197.64h0M88.09,197.64h0M92.40,197.64h0M96.70,197.64h0M101.00,197.64h0M122.52,197.64h0M126.82,197.64h0M131.13,197.64h0M135.43,197.64h0M139.73,197.64h0M144.04,197.64h0M148.34,197.64h0M152.64,197.64h0M156.95,197.64h0M161.25,197.64h0M165.56,197.64h0M169.86,197.64h0M174.16,197.64h0M178.47,197.64h0M182.77,197.64h0M187.07,197.64h0M191.38,197.64h0M195.68,197.64h0M199.98,197.64h0M204.29,197.64h0M208.59,197.64h0M212.89,197.64h0M217.20,197.64h0M221.50,197.64h0M225.80,197.64h0M230.11,197.64h0M234.41,197.64h0M238.71,197.64h0M243.02,197.64h0M247.32,197.64h0M251.62,197.64h0M255.93,197.64h0M260.23,197.64h0M264.54,197.64h0M268.84,197.64h0M273.14,197.64h0M277.45,197.64h0M281.75,197.64h0M286.05,197.64h0M290.36,197.64h0M294.66,197.64h0M298.96,197.64h0M303.27,197.64h0M307.57,197.64h0M311.87,197.64h0M29.99,201.94h0M34.30,201.94h0M38.60,201.94h0M42.91,201.94h0M47.21,201.94h0M51.51,201.94h0M55.82,201.94h0M60.12,201.94h0M64.42,201.94h0M68.73,201.94h0M73.03,201.94h0M85.94,201.94h0M90.24,201.94h0M94.55,201.94h0M98.85,201.94h0M103.15,201.94h0M120.37,201.94h0M124.67,201.94h0M128.98,201.94h0M133.28,201.94h0M137.58,201.94h0M141.89,201.94h0M146.19,201.94h0M150.49,201.94h0M154.80,201.94h0M159.10,201.94h0M163.40,201.94h0M167.71,201.94h0M172.01,201.94h0M176.31,201.94h0M180.62,201.94h0M184.92,201.94h0M189.22,201.94h0M193.53,201.94h0M197.83,201.94h0M202.13,201.94h0M206.44,201.94h0M210.74,201.94h0M215.05,201.94h0M219.35,201.94h0M223.65,201.94h0M227.96,201.94h0M232.26,201.94h0M236.56,201.94h0M240.87,201.94h0M245.17,201.94h0M249.47,201.94h0M253.78,201.94h0M258.08,201.94h0M262.38,201.94h0M266.69,201.94h0M270.99,201.94h0M275.29,201.94h0M279.60,201.94h0M283.90,201.94h0M288.20,201.94h0M292.51,201.94h0M296.81,201.94h0M301.12,201.94h0M305.42,201.94h0M309.72,201.94h0M314.03,201.94h0M318.33,201.94h0M32.15,206.24h0M36.45,206.24h0M40.75,206.24h0M45.06,206.24h0M49.36,206.24h0M53.66,206.24h0M57.97,206.24h0M62.27,206.24h0M66.57,206.24h0M70.88,206.24h0M75.18,206.24h0M79.48,206.24h0M83.79,206.24h0M88.09,206.24h0M92.40,206.24h0M96.70,206.24h0M101.00,206.24h0M122.52,206.24h0M126.82,206.24h0M131.13,206.24h0M135.43,206.24h0M139.73,206.24h0M144.04,206.24h0M148.34,206.24h0M152.64,206.24h0M156.95,206.24h0M161.25,206.24h0M165.56,206.24h0M169.86,206.24h0M174.16,206.24h0M178.47,206.24h0M182.77,206.24h0M187.07,206.24h0M191.38,206.24h0M195.68,206.24h0M199.98,206.24h0M204.29,206.24h0M208.59,206.24h0M212.89,206.24h0M217.20,206.24h0M221.50,206.24h0M225.80,206.24h0M230.11,206.24h0M234.41,206.24h0M238.71,206.24h0M243.02,206.24h0M247.32,206.24h0M251.62,206.24h0M255.93,206.24h0M260.23,206.24h0M264.54,206.24h0M268.84,206.24h0M273.14,206.24h0M277.45,206.24h0M281.75,206.24h0M286.05,206.24h0M290.36,206.24h0M294.66,206.24h0M298.96,206.24h0M303.27,206.24h0M307.57,206.24h0M311.87,206.24h0" fill="none" stroke="#000" stroke-width="1.68" stroke-linecap="round"/>
</g>
<g clip-path="url(#cb)">
<rect x="372.1" y="57.6" width="299.0" height="149.3" fill="#f7a98b"/>
<path d="M421.4,68.7 L428.3,82.0 L421.4,96.0 L414.5,81.5 Z" fill="#ef886b" />
<path d="M370.0,94.0 L376.8,94.0 L380.5,108.6 L374.0,121.7 L370.0,131.0 Z" fill="#ef886b" />
<path d="M469.6,56.0 L495.8,56.0 L498.0,71.6 L500.2,94.0 L511.9,96.2 L522.1,99.1 L524.3,108.6 L521.4,120.3 L521.5,131.0 L521.4,145.6 L517.5,168.0 L512.3,177.2 L507.7,187.9 L503.9,208.0 L490.9,208.0 L490.1,187.9 L489.5,176.0 L481.0,175.5 L471.0,174.0 L467.6,172.0 L464.3,165.0 L463.0,131.0 L462.2,110.0 L460.0,94.0 L458.0,85.0 L460.3,79.0 L464.7,71.3 Z" fill="#ef886b" />
<path d="M602.0,77.5 L606.0,85.0 L606.8,94.0 L610.4,102.8 L620.6,107.9 L641.0,108.6 L652.8,105.7 L664.4,108.6 L668.8,114.4 L673.0,116.0 L673.0,128.0 L658.6,131.0 L650.6,139.8 L646.9,152.9 L644.0,168.0 L638.0,170.5 L632.3,168.0 L630.1,160.2 L629.4,139.8 L624.6,131.0 L619.2,123.2 L606.0,117.4 L601.0,105.7 L600.2,94.0 L599.0,85.0 Z" fill="#ef886b" />
<path d="M617.7,56.0 L658.6,56.0 L649.8,62.8 L632.3,65.0 L620.6,63.6 Z" fill="#ef886b" />
<path d="M593.0,150.0 L597.0,151.5 L613.2,158.7 L626.4,175.2 L631.9,188.3 L633.0,197.1 L628.6,203.7 L613.2,205.5 L570.4,205.9 L568.2,194.9 L570.4,181.7 L575.9,170.8 L584.7,159.8 Z" fill="#ef886b" />
<path d="M554.0,181.7 L559.4,177.4 L563.8,179.6 L565.0,188.3 L559.4,196.0 L554.0,202.6 L552.0,208.0 L546.3,208.0 L547.4,195.0 L550.6,186.0 Z" fill="#ef886b" />
<path d="M421.5,170.3 L432.2,169.5 L433.7,174.1 L429.9,177.9 L423.8,174.9 Z" fill="#ef886b" />
<path d="M536.5,137.0 L541.0,134.0 L546.0,138.5 L546.0,146.0 L541.0,150.0 L537.0,146.0 Z" fill="#ef886b" />
<path d="M479.0,56.0 L485.5,56.0 L482.0,71.0 Z" fill="#dd5f4b" />
<path d="M468.5,104.0 L472.0,99.0 L475.4,103.0 L475.4,120.0 L472.0,126.0 L468.5,120.0 Z" fill="#dd5f4b" />
<path d="M550.5,208.0 L552.0,199.0 L555.5,198.0 L557.0,208.0 Z" fill="#dd5f4b" />
<path d="M480.9,138.0 L482.1,138.0 L482.8,166.0 L480.6,166.0 Z" fill="#f7a98b" />
<path d="M383.6,56.0 L413.8,56.0 L405.0,82.0 L402.0,97.0 L398.0,100.0 L394.5,94.0 L392.0,82.0 Z" fill="#f5c4ac" />
<path d="M411.1,107.9 L433.8,108.6 L434.5,115.9 L429.4,121.0 L416.3,122.5 L411.9,115.9 Z" fill="#f5c4ac" />
<path d="M454.8,56.0 L465.2,56.0 L462.0,68.0 Z" fill="#f5c4ac" />
<path d="M538.7,56.0 L584.0,56.0 L581.2,68.0 L580.3,69.4 L571.0,70.1 L564.2,70.9 L558.4,68.7 L551.1,65.0 L541.6,69.4 Z" fill="#f5c4ac" />
<path d="M664.4,56.0 L673.0,56.0 L673.0,95.0 L640.0,95.0 L636.0,94.0 L635.0,96.2 L622.0,97.0 L620.0,94.0 L614.8,84.0 L620.6,73.0 L635.2,76.0 L650.6,75.2 L661.5,72.3 Z" fill="#f5c4ac" />
<path d="M541.1,102.8 L535.2,112.2 L547.6,113.0 Z" fill="#f5c4ac" />
<path d="M521.5,177.2 L523.8,171.0 L529.0,166.5 L535.0,166.0 L540.6,169.5 L542.9,177.2 L539.8,190.9 L538.3,200.9 L532.2,205.5 L521.5,204.7 L516.9,198.6 L518.4,186.3 Z" fill="#f5c4ac" />
<path d="M391.0,205.0 L392.5,197.0 L395.5,191.0 L399.0,195.0 L398.5,203.0 L396.0,208.0 Z" fill="#f5c4ac" />
<path d="M447.5,208.0 L447.0,190.0 L449.0,177.0 L452.0,172.0 L453.5,185.0 L453.0,208.0 Z" fill="#f5c4ac" />
<path d="M441.0,139.0 L438.0,151.0 L444.5,151.0 Z" fill="#f5c4ac" />
<path d="M561.0,93.8 L570.0,93.8 L578.0,102.6 L581.5,109.7 L578.0,118.5 L573.0,127.0 L569.0,132.0 L564.0,131.0 L558.5,120.3 L557.6,108.0 L559.0,100.0 Z" fill="#ef886b" />
<path d="M564.7,110.0 L568.0,109.0 L570.5,111.5 L569.0,114.3 L565.5,114.3 Z" fill="#dd5f4b" />
<path d="M620.0,79.5 L629.0,80.0 L631.0,83.0 L622.0,84.5 Z" fill="#e7d7ce" />
<g filter="url(#rough)">
<path d="M370.5,86.0 L374.5,85.0 L377.5,84.5 L382.0,84.3 L386.8,79.6 L389.9,84.4 L391.5,92.3 L394.6,97.8 L398.5,101.7 L400.5,104.0 L402.5,107.0 L405.5,110.0 L408.5,113.0 L410.0,117.0 L410.5,120.0 L413.5,122.0 L415.5,124.0 L416.5,127.0 L417.5,131.0 L417.7,134.4 L416.0,137.5 L414.5,140.7 L415.0,144.0 L415.5,146.5 L418.5,147.5 L421.5,148.5 L426.3,148.0 L430.3,146.2 L435.0,141.5 L438.9,138.3 L441.2,132.8 L442.5,135.0 L445.2,139.1 L447.0,144.0 L449.1,148.5 L450.0,153.0 L451.5,159.5 L453.5,165.0 L455.0,173.0 L455.5,180.0 L456.5,187.0 L455.5,195.0 L457.5,200.0 L459.0,208.0" fill="none" stroke="#808285" stroke-width="2.72" stroke-linejoin="round" stroke-linecap="round"/>
<path d="M376.8,73.6 L376.8,78.0 L377.3,84.0" fill="none" stroke="#808285" stroke-width="5.779999999999999" stroke-linejoin="round" stroke-linecap="round"/>
<path d="M374.5,85.2 L377.5,84.5 L382.0,84.3" fill="none" stroke="#808285" stroke-width="6.8" stroke-linejoin="round" stroke-linecap="round"/>
<path d="M382.0,84.3 L386.8,79.6 L389.9,84.4 L391.5,92.3 L394.6,97.8 L398.5,101.7" fill="none" stroke="#808285" stroke-width="3.23" stroke-linejoin="round" stroke-linecap="round"/>
<path d="M408.0,112.5 L410.0,117.0 L410.8,121.0" fill="none" stroke="#808285" stroke-width="5.1" stroke-linejoin="round" stroke-linecap="round"/>
<path d="M417.5,147.5 L421.5,148.6 L425.5,148.0" fill="none" stroke="#808285" stroke-width="5.44" stroke-linejoin="round" stroke-linecap="round"/>
<circle cx="452.0" cy="176" r="1.4" fill="#808285"/>
<circle cx="453.5" cy="179.5" r="1.7" fill="#808285"/>
<circle cx="451.5" cy="183" r="1.5" fill="#808285"/>
<circle cx="454.0" cy="186.5" r="1.8" fill="#808285"/>
<circle cx="452.0" cy="190" r="1.6" fill="#808285"/>
<circle cx="454.5" cy="193" r="1.8" fill="#808285"/>
<circle cx="452.3" cy="196.5" r="1.6" fill="#808285"/>
<circle cx="454.0" cy="200" r="1.8" fill="#808285"/>
<circle cx="452.5" cy="203.5" r="1.6" fill="#808285"/>
<circle cx="455.3" cy="204.5" r="1.3" fill="#808285"/>
<circle cx="449.5" cy="189" r="1.0" fill="#808285"/>
<circle cx="449.8" cy="196" r="1.1" fill="#808285"/>
<circle cx="450.1" cy="201.5" r="1.1" fill="#808285"/>
<circle cx="456.5" cy="183" r="1.1" fill="#808285"/>
<circle cx="457.0" cy="190" r="1.0" fill="#808285"/>
<circle cx="449.3" cy="182" r="0.8" fill="#808285"/>
<circle cx="455.5" cy="176.5" r="1.0" fill="#808285"/>
<circle cx="457.0" cy="197" r="0.9" fill="#808285"/>
<path d="M462.6,208.0 L463.8,200.0 L465.8,194.0 L467.9,188.3 L470.1,181.0 L471.7,176.0 L473.1,172.6 L477.5,172.2 L480.5,172.6 L480.9,176.0 L481.5,179.2 L485.5,180.0 L490.9,181.6 L494.5,183.0 L497.0,186.3 L500.5,191.0 L503.1,195.5 L506.0,198.5 L509.2,200.9 L513.0,203.0 L516.9,204.7 L521.5,208.0" fill="none" stroke="#808285" stroke-width="2.55" stroke-linejoin="round" stroke-linecap="round"/>
<path d="M532.2,208.0 L535.0,203.0 L538.3,200.9 L541.5,203.0 L544.4,202.4 L550.1,200.4 L556.6,197.0 L561.0,193.8 L563.5,189.4 L566.5,184.0 L566.6,177.2 L565.5,173.0 L564.5,167.0 L563.2,163.0 L562.1,157.5 L558.5,151.5 L554.5,146.5 L549.0,142.0 L543.5,137.7 L539.5,134.0 L536.5,131.0 L534.3,127.6 L531.5,124.0 L529.9,121.7 L528.4,115.9 L528.7,112.0 L529.9,108.6 L532.0,106.0 L534.3,104.2 L537.5,101.0 L540.1,99.1 L542.5,96.0 L544.5,93.5 L547.5,92.0 L550.0,89.5 L552.5,90.5 L556.2,87.7 L558.5,90.0 L561.5,91.5 L564.5,90.5 L567.5,92.5 L571.5,92.5" fill="none" stroke="#808285" stroke-width="2.55" stroke-linejoin="round" stroke-linecap="round"/>
<path d="M540.5,98.5 L544.5,95.5 L549.5,95.0" fill="none" stroke="#808285" stroke-width="4.42" stroke-linejoin="round" stroke-linecap="round"/>
<path d="M566.0,91.0 L568.0,95.0 L569.0,100.0 L571.0,104.0 L573.0,105.5 L574.5,104.0 L573.5,99.0 L574.5,95.5 L578.5,93.3" fill="none" stroke="#808285" stroke-width="2.55" stroke-linejoin="round" stroke-linecap="round"/>
<path d="M571.5,92.5 L575.0,93.5 L578.5,93.5 L582.0,91.0 L586.1,89.8 L589.5,88.5 L593.5,88.0 L597.0,86.5 L600.7,85.5 L603.5,84.5" fill="none" stroke="#808285" stroke-width="2.72" stroke-linejoin="round" stroke-linecap="round"/>
<path d="M603.5,84.5 L605.0,81.0 L606.3,77.5 L607.5,79.0 L607.0,82.5 L608.8,85.0 L610.0,83.0 L611.5,81.5" fill="none" stroke="#808285" stroke-width="2.55" stroke-linejoin="round" stroke-linecap="round"/>
<path d="M606.3,78.5 L607.0,84.5" fill="none" stroke="#808285" stroke-width="3.23" stroke-linejoin="round" stroke-linecap="round"/>
<path d="M611.5,81.5 L615.3,81.0 L618.5,79.5 L622.0,79.3 L625.5,78.9 L629.5,79.3 L634.3,78.2 L637.0,75.5 L640.1,72.3 L643.5,70.8 L647.4,68.7 L650.0,65.5 L651.8,62.8 L655.5,60.5 L660.5,58.3" fill="none" stroke="#808285" stroke-width="2.8899999999999997" stroke-linejoin="round" stroke-linecap="round"/>
<circle cx="562.0" cy="96.2" r="0.9" fill="#808285"/>
<path d="M571.5,106.5 L575.5,106.6 L579.5,107.0 L582.5,110.0 L580.0,113.0 L577.5,116.0 L575.0,120.0 L573.0,123.2 L569.5,124.5 L566.5,125.0 L562.5,124.0 L559.8,122.5 L558.0,120.0 L557.6,117.4 L558.0,115.0 L559.1,113.0 L561.5,110.5 L564.9,108.6 L568.5,107.0 Z" fill="none" stroke="#808285" stroke-width="2.55" stroke-linejoin="round" stroke-linecap="round"/>
<ellipse cx="666.4" cy="71.6" rx="1.6" ry="1.3" fill="#808285"/>
<path d="M669.8,143.5 L669.1,147.0 L670.0,150.5" fill="none" stroke="#808285" stroke-width="3.06" stroke-linejoin="round" stroke-linecap="round"/>
<path d="M660.0,204.0 L662.5,200.5 L665.0,197.0 L667.5,194.0 L669.5,189.0 L670.3,184.0" fill="none" stroke="#808285" stroke-width="3.4" stroke-linejoin="round" stroke-linecap="round"/>
<path d="M663.5,198.5 L666.5,194.5" fill="none" stroke="#808285" stroke-width="5.44" stroke-linejoin="round" stroke-linecap="round"/>
<path d="M664.0,205.5 L667.0,202.0 L670.0,199.5" fill="none" stroke="#808285" stroke-width="2.72" stroke-linejoin="round" stroke-linecap="round"/>
<circle cx="660.8" cy="200.3" r="1.1" fill="#f5c4ac"/>
<path d="M401.6,170.5 L401.3,176.0 L400.7,182.0 L399.7,188.0 L398.7,193.0" fill="none" stroke="#808285" stroke-width="3.4" stroke-linejoin="round" stroke-linecap="round"/>
<path d="M401.8,172.0 L401.3,180.0 L400.3,186.0" fill="none" stroke="#808285" stroke-width="4.42" stroke-linejoin="round" stroke-linecap="round"/>
<path d="M396.0,199.8 L395.7,202.5" fill="none" stroke="#808285" stroke-width="2.72" stroke-linejoin="round" stroke-linecap="round"/>
<circle cx="405.5" cy="166.4" r="0.8" fill="#808285"/>
<path d="M396.1,199.5 L395.7,202.3" fill="none" stroke="#808285" stroke-width="3.4" stroke-linejoin="round" stroke-linecap="round"/>
</g>
<path d="M372.12,60.04h0M376.43,60.04h0M380.73,60.04h0M385.03,60.04h0M389.34,60.04h0M393.64,60.04h0M397.94,60.04h0M402.25,60.04h0M406.55,60.04h0M410.85,60.04h0M415.16,60.04h0M419.46,60.04h0M423.76,60.04h0M428.07,60.04h0M432.37,60.04h0M436.68,60.04h0M440.98,60.04h0M445.28,60.04h0M449.59,60.04h0M453.89,60.04h0M471.10,60.04h0M475.41,60.04h0M479.71,60.04h0M484.01,60.04h0M488.32,60.04h0M492.62,60.04h0M496.92,60.04h0M501.23,60.04h0M505.53,60.04h0M509.83,60.04h0M514.14,60.04h0M518.44,60.04h0M522.75,60.04h0M527.05,60.04h0M531.35,60.04h0M608.82,60.04h0M613.12,60.04h0M617.42,60.04h0M630.33,60.04h0M634.64,60.04h0M638.94,60.04h0M643.24,60.04h0M647.55,60.04h0M651.85,60.04h0M656.15,60.04h0M660.46,60.04h0M374.27,64.34h0M378.58,64.34h0M382.88,64.34h0M387.19,64.34h0M391.49,64.34h0M395.79,64.34h0M400.10,64.34h0M404.40,64.34h0M408.70,64.34h0M413.01,64.34h0M417.31,64.34h0M421.61,64.34h0M425.92,64.34h0M430.22,64.34h0M434.52,64.34h0M438.83,64.34h0M443.13,64.34h0M447.43,64.34h0M451.74,64.34h0M456.04,64.34h0M468.95,64.34h0M473.26,64.34h0M477.56,64.34h0M481.86,64.34h0M486.17,64.34h0M490.47,64.34h0M494.77,64.34h0M499.08,64.34h0M503.38,64.34h0M507.68,64.34h0M511.99,64.34h0M516.29,64.34h0M520.59,64.34h0M524.90,64.34h0M529.20,64.34h0M533.50,64.34h0M606.66,64.34h0M610.97,64.34h0M615.27,64.34h0M636.79,64.34h0M641.09,64.34h0M645.40,64.34h0M649.70,64.34h0M654.00,64.34h0M658.31,64.34h0M671.22,64.34h0M372.12,68.64h0M376.43,68.64h0M380.73,68.64h0M385.03,68.64h0M389.34,68.64h0M393.64,68.64h0M397.94,68.64h0M402.25,68.64h0M406.55,68.64h0M410.85,68.64h0M415.16,68.64h0M419.46,68.64h0M423.76,68.64h0M428.07,68.64h0M436.68,68.64h0M440.98,68.64h0M445.28,68.64h0M449.59,68.64h0M453.89,68.64h0M458.19,68.64h0M466.80,68.64h0M471.10,68.64h0M475.41,68.64h0M479.71,68.64h0M484.01,68.64h0M488.32,68.64h0M492.62,68.64h0M496.92,68.64h0M501.23,68.64h0M505.53,68.64h0M509.83,68.64h0M514.14,68.64h0M518.44,68.64h0M522.75,68.64h0M527.05,68.64h0M531.35,68.64h0M535.66,68.64h0M539.96,68.64h0M604.51,68.64h0M608.82,68.64h0M613.12,68.64h0M617.42,68.64h0M634.64,68.64h0M638.94,68.64h0M643.24,68.64h0M647.55,68.64h0M651.85,68.64h0M656.15,68.64h0M660.46,68.64h0M374.27,72.94h0M378.58,72.94h0M382.88,72.94h0M387.19,72.94h0M391.49,72.94h0M395.79,72.94h0M400.10,72.94h0M404.40,72.94h0M408.70,72.94h0M413.01,72.94h0M417.31,72.94h0M421.61,72.94h0M425.92,72.94h0M438.83,72.94h0M443.13,72.94h0M447.43,72.94h0M451.74,72.94h0M456.04,72.94h0M460.34,72.94h0M464.65,72.94h0M468.95,72.94h0M473.26,72.94h0M477.56,72.94h0M481.86,72.94h0M486.17,72.94h0M490.47,72.94h0M494.77,72.94h0M499.08,72.94h0M503.38,72.94h0M507.68,72.94h0M511.99,72.94h0M516.29,72.94h0M520.59,72.94h0M524.90,72.94h0M529.20,72.94h0M533.50,72.94h0M537.81,72.94h0M542.11,72.94h0M546.41,72.94h0M550.72,72.94h0M555.02,72.94h0M559.33,72.94h0M563.63,72.94h0M598.06,72.94h0M602.36,72.94h0M606.66,72.94h0M610.97,72.94h0M615.27,72.94h0M641.09,72.94h0M645.40,72.94h0M649.70,72.94h0M654.00,72.94h0M671.22,72.94h0M372.12,77.24h0M376.43,77.24h0M380.73,77.24h0M385.03,77.24h0M389.34,77.24h0M393.64,77.24h0M397.94,77.24h0M402.25,77.24h0M406.55,77.24h0M410.85,77.24h0M415.16,77.24h0M419.46,77.24h0M423.76,77.24h0M428.07,77.24h0M436.68,77.24h0M440.98,77.24h0M445.28,77.24h0M449.59,77.24h0M453.89,77.24h0M458.19,77.24h0M462.50,77.24h0M466.80,77.24h0M471.10,77.24h0M475.41,77.24h0M479.71,77.24h0M484.01,77.24h0M488.32,77.24h0M492.62,77.24h0M496.92,77.24h0M501.23,77.24h0M505.53,77.24h0M509.83,77.24h0M514.14,77.24h0M518.44,77.24h0M522.75,77.24h0M527.05,77.24h0M531.35,77.24h0M535.66,77.24h0M539.96,77.24h0M544.26,77.24h0M548.57,77.24h0M552.87,77.24h0M557.17,77.24h0M561.48,77.24h0M565.78,77.24h0M570.08,77.24h0M574.39,77.24h0M578.69,77.24h0M582.99,77.24h0M587.30,77.24h0M591.60,77.24h0M595.90,77.24h0M600.21,77.24h0M604.51,77.24h0M608.82,77.24h0M613.12,77.24h0M643.24,77.24h0M647.55,77.24h0M651.85,77.24h0M374.27,81.54h0M378.58,81.54h0M382.88,81.54h0M387.19,81.54h0M391.49,81.54h0M395.79,81.54h0M400.10,81.54h0M404.40,81.54h0M408.70,81.54h0M413.01,81.54h0M417.31,81.54h0M421.61,81.54h0M425.92,81.54h0M438.83,81.54h0M443.13,81.54h0M447.43,81.54h0M451.74,81.54h0M456.04,81.54h0M460.34,81.54h0M464.65,81.54h0M468.95,81.54h0M473.26,81.54h0M477.56,81.54h0M481.86,81.54h0M486.17,81.54h0M490.47,81.54h0M494.77,81.54h0M499.08,81.54h0M503.38,81.54h0M507.68,81.54h0M511.99,81.54h0M516.29,81.54h0M520.59,81.54h0M524.90,81.54h0M529.20,81.54h0M533.50,81.54h0M537.81,81.54h0M542.11,81.54h0M546.41,81.54h0M550.72,81.54h0M555.02,81.54h0M559.33,81.54h0M563.63,81.54h0M567.93,81.54h0M572.24,81.54h0M576.54,81.54h0M580.84,81.54h0M585.15,81.54h0M589.45,81.54h0M593.75,81.54h0M598.06,81.54h0M645.40,81.54h0M649.70,81.54h0M671.22,81.54h0M372.12,85.84h0M376.43,85.84h0M380.73,85.84h0M385.03,85.84h0M389.34,85.84h0M393.64,85.84h0M397.94,85.84h0M402.25,85.84h0M406.55,85.84h0M410.85,85.84h0M415.16,85.84h0M419.46,85.84h0M423.76,85.84h0M428.07,85.84h0M436.68,85.84h0M440.98,85.84h0M445.28,85.84h0M449.59,85.84h0M453.89,85.84h0M458.19,85.84h0M462.50,85.84h0M466.80,85.84h0M471.10,85.84h0M475.41,85.84h0M479.71,85.84h0M484.01,85.84h0M488.32,85.84h0M492.62,85.84h0M496.92,85.84h0M501.23,85.84h0M505.53,85.84h0M509.83,85.84h0M514.14,85.84h0M518.44,85.84h0M522.75,85.84h0M527.05,85.84h0M531.35,85.84h0M535.66,85.84h0M539.96,85.84h0M544.26,85.84h0M548.57,85.84h0M552.87,85.84h0M557.17,85.84h0M561.48,85.84h0M565.78,85.84h0M570.08,85.84h0M574.39,85.84h0M578.69,85.84h0M582.99,85.84h0M587.30,85.84h0M591.60,85.84h0M647.55,85.84h0M651.85,85.84h0M656.15,85.84h0M374.27,90.14h0M378.58,90.14h0M382.88,90.14h0M387.19,90.14h0M391.49,90.14h0M395.79,90.14h0M400.10,90.14h0M404.40,90.14h0M408.70,90.14h0M413.01,90.14h0M417.31,90.14h0M421.61,90.14h0M425.92,90.14h0M438.83,90.14h0M443.13,90.14h0M447.43,90.14h0M451.74,90.14h0M456.04,90.14h0M460.34,90.14h0M464.65,90.14h0M468.95,90.14h0M473.26,90.14h0M477.56,90.14h0M481.86,90.14h0M486.17,90.14h0M490.47,90.14h0M494.77,90.14h0M499.08,90.14h0M503.38,90.14h0M507.68,90.14h0M511.99,90.14h0M516.29,90.14h0M520.59,90.14h0M524.90,90.14h0M529.20,90.14h0M533.50,90.14h0M537.81,90.14h0M542.11,90.14h0M546.41,90.14h0M550.72,90.14h0M555.02,90.14h0M559.33,90.14h0M563.63,90.14h0M567.93,90.14h0M572.24,90.14h0M576.54,90.14h0M580.84,90.14h0M585.15,90.14h0M589.45,90.14h0M641.09,90.14h0M645.40,90.14h0M649.70,90.14h0M654.00,90.14h0M658.31,90.14h0M662.61,90.14h0M671.22,90.14h0M372.12,94.44h0M376.43,94.44h0M380.73,94.44h0M385.03,94.44h0M389.34,94.44h0M393.64,94.44h0M397.94,94.44h0M402.25,94.44h0M406.55,94.44h0M410.85,94.44h0M415.16,94.44h0M419.46,94.44h0M423.76,94.44h0M428.07,94.44h0M436.68,94.44h0M440.98,94.44h0M445.28,94.44h0M449.59,94.44h0M453.89,94.44h0M458.19,94.44h0M462.50,94.44h0M466.80,94.44h0M471.10,94.44h0M475.41,94.44h0M479.71,94.44h0M484.01,94.44h0M488.32,94.44h0M492.62,94.44h0M496.92,94.44h0M501.23,94.44h0M505.53,94.44h0M509.83,94.44h0M514.14,94.44h0M518.44,94.44h0M522.75,94.44h0M527.05,94.44h0M531.35,94.44h0M535.66,94.44h0M539.96,94.44h0M544.26,94.44h0M548.57,94.44h0M552.87,94.44h0M557.17,94.44h0M561.48,94.44h0M565.78,94.44h0M570.08,94.44h0M574.39,94.44h0M578.69,94.44h0M582.99,94.44h0M587.30,94.44h0M591.60,94.44h0M595.90,94.44h0M600.21,94.44h0M604.51,94.44h0M608.82,94.44h0M613.12,94.44h0M638.94,94.44h0M643.24,94.44h0M647.55,94.44h0M651.85,94.44h0M656.15,94.44h0M660.46,94.44h0M664.76,94.44h0M669.06,94.44h0M374.27,98.74h0M378.58,98.74h0M382.88,98.74h0M387.19,98.74h0M391.49,98.74h0M395.79,98.74h0M400.10,98.74h0M404.40,98.74h0M408.70,98.74h0M413.01,98.74h0M417.31,98.74h0M421.61,98.74h0M425.92,98.74h0M438.83,98.74h0M443.13,98.74h0M447.43,98.74h0M451.74,98.74h0M456.04,98.74h0M460.34,98.74h0M464.65,98.74h0M468.95,98.74h0M473.26,98.74h0M477.56,98.74h0M481.86,98.74h0M486.17,98.74h0M490.47,98.74h0M494.77,98.74h0M499.08,98.74h0M503.38,98.74h0M507.68,98.74h0M511.99,98.74h0M516.29,98.74h0M520.59,98.74h0M524.90,98.74h0M529.20,98.74h0M533.50,98.74h0M537.81,98.74h0M542.11,98.74h0M546.41,98.74h0M550.72,98.74h0M555.02,98.74h0M559.33,98.74h0M563.63,98.74h0M567.93,98.74h0M572.24,98.74h0M576.54,98.74h0M580.84,98.74h0M585.15,98.74h0M589.45,98.74h0M593.75,98.74h0M598.06,98.74h0M602.36,98.74h0M606.66,98.74h0M610.97,98.74h0M615.27,98.74h0M636.79,98.74h0M641.09,98.74h0M645.40,98.74h0M649.70,98.74h0M654.00,98.74h0M658.31,98.74h0M662.61,98.74h0M666.91,98.74h0M372.12,103.04h0M376.43,103.04h0M380.73,103.04h0M385.03,103.04h0M389.34,103.04h0M393.64,103.04h0M397.94,103.04h0M402.25,103.04h0M406.55,103.04h0M410.85,103.04h0M415.16,103.04h0M419.46,103.04h0M423.76,103.04h0M428.07,103.04h0M436.68,103.04h0M440.98,103.04h0M445.28,103.04h0M449.59,103.04h0M453.89,103.04h0M458.19,103.04h0M462.50,103.04h0M466.80,103.04h0M471.10,103.04h0M475.41,103.04h0M479.71,103.04h0M484.01,103.04h0M488.32,103.04h0M492.62,103.04h0M496.92,103.04h0M501.23,103.04h0M505.53,103.04h0M509.83,103.04h0M514.14,103.04h0M518.44,103.04h0M522.75,103.04h0M527.05,103.04h0M531.35,103.04h0M535.66,103.04h0M539.96,103.04h0M544.26,103.04h0M548.57,103.04h0M552.87,103.04h0M557.17,103.04h0M561.48,103.04h0M565.78,103.04h0M570.08,103.04h0M574.39,103.04h0M578.69,103.04h0M582.99,103.04h0M587.30,103.04h0M591.60,103.04h0M595.90,103.04h0M600.21,103.04h0M604.51,103.04h0M608.82,103.04h0M613.12,103.04h0M617.42,103.04h0M634.64,103.04h0M638.94,103.04h0M643.24,103.04h0M647.55,103.04h0M651.85,103.04h0M656.15,103.04h0M660.46,103.04h0M664.76,103.04h0M669.06,103.04h0M374.27,107.34h0M378.58,107.34h0M382.88,107.34h0M387.19,107.34h0M391.49,107.34h0M395.79,107.34h0M400.10,107.34h0M404.40,107.34h0M408.70,107.34h0M413.01,107.34h0M417.31,107.34h0M421.61,107.34h0M425.92,107.34h0M430.22,107.34h0M434.52,107.34h0M438.83,107.34h0M443.13,107.34h0M447.43,107.34h0M451.74,107.34h0M456.04,107.34h0M460.34,107.34h0M464.65,107.34h0M468.95,107.34h0M473.26,107.34h0M477.56,107.34h0M481.86,107.34h0M486.17,107.34h0M490.47,107.34h0M494.77,107.34h0M499.08,107.34h0M503.38,107.34h0M507.68,107.34h0M511.99,107.34h0M516.29,107.34h0M520.59,107.34h0M524.90,107.34h0M529.20,107.34h0M533.50,107.34h0M537.81,107.34h0M542.11,107.34h0M546.41,107.34h0M550.72,107.34h0M555.02,107.34h0M559.33,107.34h0M563.63,107.34h0M567.93,107.34h0M572.24,107.34h0M576.54,107.34h0M580.84,107.34h0M585.15,107.34h0M589.45,107.34h0M593.75,107.34h0M598.06,107.34h0M602.36,107.34h0M606.66,107.34h0M610.97,107.34h0M615.27,107.34h0M619.57,107.34h0M623.88,107.34h0M628.18,107.34h0M632.48,107.34h0M636.79,107.34h0M641.09,107.34h0M645.40,107.34h0M649.70,107.34h0M654.00,107.34h0M658.31,107.34h0M662.61,107.34h0M666.91,107.34h0M372.12,111.64h0M376.43,111.64h0M380.73,111.64h0M385.03,111.64h0M389.34,111.64h0M393.64,111.64h0M397.94,111.64h0M402.25,111.64h0M406.55,111.64h0M410.85,111.64h0M415.16,111.64h0M419.46,111.64h0M423.76,111.64h0M428.07,111.64h0M432.37,111.64h0M436.68,111.64h0M440.98,111.64h0M445.28,111.64h0M449.59,111.64h0M453.89,111.64h0M458.19,111.64h0M462.50,111.64h0M466.80,111.64h0M471.10,111.64h0M475.41,111.64h0M479.71,111.64h0M484.01,111.64h0M488.32,111.64h0M492.62,111.64h0M496.92,111.64h0M501.23,111.64h0M505.53,111.64h0M509.83,111.64h0M514.14,111.64h0M518.44,111.64h0M522.75,111.64h0M527.05,111.64h0M531.35,111.64h0M535.66,111.64h0M539.96,111.64h0M544.26,111.64h0M548.57,111.64h0M552.87,111.64h0M557.17,111.64h0M561.48,111.64h0M565.78,111.64h0M570.08,111.64h0M574.39,111.64h0M578.69,111.64h0M582.99,111.64h0M587.30,111.64h0M591.60,111.64h0M595.90,111.64h0M600.21,111.64h0M604.51,111.64h0M608.82,111.64h0M613.12,111.64h0M617.42,111.64h0M621.73,111.64h0M626.03,111.64h0M630.33,111.64h0M634.64,111.64h0M638.94,111.64h0M643.24,111.64h0M647.55,111.64h0M651.85,111.64h0M656.15,111.64h0M660.46,111.64h0M664.76,111.64h0M669.06,111.64h0M374.27,115.94h0M378.58,115.94h0M382.88,115.94h0M387.19,115.94h0M391.49,115.94h0M395.79,115.94h0M400.10,115.94h0M404.40,115.94h0M408.70,115.94h0M413.01,115.94h0M417.31,115.94h0M421.61,115.94h0M425.92,115.94h0M430.22,115.94h0M434.52,115.94h0M438.83,115.94h0M443.13,115.94h0M447.43,115.94h0M451.74,115.94h0M456.04,115.94h0M460.34,115.94h0M464.65,115.94h0M468.95,115.94h0M473.26,115.94h0M477.56,115.94h0M481.86,115.94h0M486.17,115.94h0M490.47,115.94h0M494.77,115.94h0M499.08,115.94h0M503.38,115.94h0M507.68,115.94h0M511.99,115.94h0M516.29,115.94h0M520.59,115.94h0M524.90,115.94h0M529.20,115.94h0M533.50,115.94h0M537.81,115.94h0M542.11,115.94h0M546.41,115.94h0M550.72,115.94h0M555.02,115.94h0M559.33,115.94h0M563.63,115.94h0M567.93,115.94h0M572.24,115.94h0M576.54,115.94h0M580.84,115.94h0M585.15,115.94h0M589.45,115.94h0M593.75,115.94h0M598.06,115.94h0M602.36,115.94h0M606.66,115.94h0M610.97,115.94h0M615.27,115.94h0M619.57,115.94h0M623.88,115.94h0M628.18,115.94h0M632.48,115.94h0M636.79,115.94h0M641.09,115.94h0M645.40,115.94h0M649.70,115.94h0M654.00,115.94h0M658.31,115.94h0M662.61,115.94h0M666.91,115.94h0M372.12,120.24h0M376.43,120.24h0M380.73,120.24h0M385.03,120.24h0M389.34,120.24h0M393.64,120.24h0M397.94,120.24h0M402.25,120.24h0M406.55,120.24h0M410.85,120.24h0M415.16,120.24h0M419.46,120.24h0M423.76,120.24h0M428.07,120.24h0M432.37,120.24h0M436.68,120.24h0M440.98,120.24h0M445.28,120.24h0M449.59,120.24h0M453.89,120.24h0M458.19,120.24h0M462.50,120.24h0M466.80,120.24h0M471.10,120.24h0M475.41,120.24h0M479.71,120.24h0M484.01,120.24h0M488.32,120.24h0M492.62,120.24h0M496.92,120.24h0M501.23,120.24h0M505.53,120.24h0M509.83,120.24h0M514.14,120.24h0M518.44,120.24h0M522.75,120.24h0M527.05,120.24h0M531.35,120.24h0M535.66,120.24h0M539.96,120.24h0M544.26,120.24h0M548.57,120.24h0M552.87,120.24h0M557.17,120.24h0M561.48,120.24h0M565.78,120.24h0M570.08,120.24h0M574.39,120.24h0M578.69,120.24h0M582.99,120.24h0M587.30,120.24h0M591.60,120.24h0M595.90,120.24h0M600.21,120.24h0M604.51,120.24h0M608.82,120.24h0M613.12,120.24h0M617.42,120.24h0M621.73,120.24h0M626.03,120.24h0M630.33,120.24h0M634.64,120.24h0M638.94,120.24h0M643.24,120.24h0M647.55,120.24h0M651.85,120.24h0M656.15,120.24h0M660.46,120.24h0M664.76,120.24h0M669.06,120.24h0M374.27,124.54h0M378.58,124.54h0M382.88,124.54h0M387.19,124.54h0M391.49,124.54h0M395.79,124.54h0M400.10,124.54h0M404.40,124.54h0M408.70,124.54h0M413.01,124.54h0M417.31,124.54h0M421.61,124.54h0M425.92,124.54h0M430.22,124.54h0M434.52,124.54h0M438.83,124.54h0M443.13,124.54h0M447.43,124.54h0M451.74,124.54h0M456.04,124.54h0M460.34,124.54h0M464.65,124.54h0M468.95,124.54h0M473.26,124.54h0M477.56,124.54h0M481.86,124.54h0M486.17,124.54h0M490.47,124.54h0M494.77,124.54h0M499.08,124.54h0M503.38,124.54h0M507.68,124.54h0M511.99,124.54h0M516.29,124.54h0M520.59,124.54h0M524.90,124.54h0M529.20,124.54h0M533.50,124.54h0M537.81,124.54h0M542.11,124.54h0M546.41,124.54h0M550.72,124.54h0M555.02,124.54h0M559.33,124.54h0M563.63,124.54h0M567.93,124.54h0M572.24,124.54h0M576.54,124.54h0M580.84,124.54h0M585.15,124.54h0M589.45,124.54h0M593.75,124.54h0M598.06,124.54h0M602.36,124.54h0M606.66,124.54h0M610.97,124.54h0M615.27,124.54h0M619.57,124.54h0M623.88,124.54h0M628.18,124.54h0M632.48,124.54h0M636.79,124.54h0M641.09,124.54h0M645.40,124.54h0M649.70,124.54h0M654.00,124.54h0M658.31,124.54h0M662.61,124.54h0M666.91,124.54h0M372.12,128.84h0M376.43,128.84h0M380.73,128.84h0M385.03,128.84h0M389.34,128.84h0M393.64,128.84h0M397.94,128.84h0M402.25,128.84h0M406.55,128.84h0M410.85,128.84h0M415.16,128.84h0M419.46,128.84h0M423.76,128.84h0M428.07,128.84h0M432.37,128.84h0M436.68,128.84h0M440.98,128.84h0M445.28,128.84h0M449.59,128.84h0M453.89,128.84h0M458.19,128.84h0M462.50,128.84h0M466.80,128.84h0M471.10,128.84h0M475.41,128.84h0M479.71,128.84h0M484.01,128.84h0M488.32,128.84h0M492.62,128.84h0M496.92,128.84h0M501.23,128.84h0M505.53,128.84h0M509.83,128.84h0M514.14,128.84h0M518.44,128.84h0M522.75,128.84h0M527.05,128.84h0M531.35,128.84h0M535.66,128.84h0M539.96,128.84h0M544.26,128.84h0M548.57,128.84h0M552.87,128.84h0M557.17,128.84h0M561.48,128.84h0M565.78,128.84h0M570.08,128.84h0M574.39,128.84h0M578.69,128.84h0M582.99,128.84h0M587.30,128.84h0M591.60,128.84h0M595.90,128.84h0M600.21,128.84h0M604.51,128.84h0M608.82,128.84h0M613.12,128.84h0M617.42,128.84h0M621.73,128.84h0M626.03,128.84h0M630.33,128.84h0M634.64,128.84h0M638.94,128.84h0M643.24,128.84h0M647.55,128.84h0M651.85,128.84h0M656.15,128.84h0M660.46,128.84h0M664.76,128.84h0M669.06,128.84h0M374.27,133.14h0M378.58,133.14h0M382.88,133.14h0M387.19,133.14h0M391.49,133.14h0M395.79,133.14h0M400.10,133.14h0M404.40,133.14h0M408.70,133.14h0M413.01,133.14h0M417.31,133.14h0M421.61,133.14h0M425.92,133.14h0M430.22,133.14h0M434.52,133.14h0M438.83,133.14h0M443.13,133.14h0M447.43,133.14h0M451.74,133.14h0M456.04,133.14h0M460.34,133.14h0M464.65,133.14h0M468.95,133.14h0M473.26,133.14h0M477.56,133.14h0M481.86,133.14h0M486.17,133.14h0M490.47,133.14h0M494.77,133.14h0M499.08,133.14h0M503.38,133.14h0M507.68,133.14h0M511.99,133.14h0M516.29,133.14h0M520.59,133.14h0M524.90,133.14h0M529.20,133.14h0M533.50,133.14h0M537.81,133.14h0M542.11,133.14h0M546.41,133.14h0M550.72,133.14h0M555.02,133.14h0M559.33,133.14h0M563.63,133.14h0M567.93,133.14h0M572.24,133.14h0M576.54,133.14h0M580.84,133.14h0M585.15,133.14h0M589.45,133.14h0M593.75,133.14h0M598.06,133.14h0M602.36,133.14h0M606.66,133.14h0M610.97,133.14h0M615.27,133.14h0M619.57,133.14h0M623.88,133.14h0M628.18,133.14h0M632.48,133.14h0M636.79,133.14h0M641.09,133.14h0M645.40,133.14h0M649.70,133.14h0M654.00,133.14h0M658.31,133.14h0M662.61,133.14h0M666.91,133.14h0M372.12,137.44h0M376.43,137.44h0M380.73,137.44h0M385.03,137.44h0M389.34,137.44h0M393.64,137.44h0M397.94,137.44h0M402.25,137.44h0M406.55,137.44h0M410.85,137.44h0M415.16,137.44h0M419.46,137.44h0M423.76,137.44h0M428.07,137.44h0M432.37,137.44h0M436.68,137.44h0M440.98,137.44h0M445.28,137.44h0M449.59,137.44h0M453.89,137.44h0M458.19,137.44h0M462.50,137.44h0M466.80,137.44h0M471.10,137.44h0M475.41,137.44h0M479.71,137.44h0M484.01,137.44h0M488.32,137.44h0M492.62,137.44h0M496.92,137.44h0M501.23,137.44h0M505.53,137.44h0M509.83,137.44h0M514.14,137.44h0M518.44,137.44h0M522.75,137.44h0M527.05,137.44h0M531.35,137.44h0M535.66,137.44h0M539.96,137.44h0M544.26,137.44h0M548.57,137.44h0M552.87,137.44h0M557.17,137.44h0M561.48,137.44h0M565.78,137.44h0M570.08,137.44h0M574.39,137.44h0M578.69,137.44h0M582.99,137.44h0M587.30,137.44h0M591.60,137.44h0M595.90,137.44h0M600.21,137.44h0M604.51,137.44h0M608.82,137.44h0M613.12,137.44h0M617.42,137.44h0M621.73,137.44h0M626.03,137.44h0M630.33,137.44h0M634.64,137.44h0M638.94,137.44h0M643.24,137.44h0M647.55,137.44h0M651.85,137.44h0M656.15,137.44h0M660.46,137.44h0M664.76,137.44h0M669.06,137.44h0M374.27,141.74h0M378.58,141.74h0M382.88,141.74h0M387.19,141.74h0M391.49,141.74h0M395.79,141.74h0M400.10,141.74h0M404.40,141.74h0M408.70,141.74h0M413.01,141.74h0M417.31,141.74h0M421.61,141.74h0M425.92,141.74h0M430.22,141.74h0M434.52,141.74h0M438.83,141.74h0M443.13,141.74h0M447.43,141.74h0M451.74,141.74h0M456.04,141.74h0M460.34,141.74h0M464.65,141.74h0M468.95,141.74h0M473.26,141.74h0M477.56,141.74h0M481.86,141.74h0M486.17,141.74h0M490.47,141.74h0M494.77,141.74h0M499.08,141.74h0M503.38,141.74h0M507.68,141.74h0M511.99,141.74h0M516.29,141.74h0M520.59,141.74h0M524.90,141.74h0M529.20,141.74h0M533.50,141.74h0M537.81,141.74h0M542.11,141.74h0M546.41,141.74h0M550.72,141.74h0M555.02,141.74h0M559.33,141.74h0M563.63,141.74h0M567.93,141.74h0M572.24,141.74h0M576.54,141.74h0M580.84,141.74h0M585.15,141.74h0M589.45,141.74h0M593.75,141.74h0M598.06,141.74h0M602.36,141.74h0M606.66,141.74h0M610.97,141.74h0M615.27,141.74h0M619.57,141.74h0M623.88,141.74h0M628.18,141.74h0M632.48,141.74h0M636.79,141.74h0M641.09,141.74h0M645.40,141.74h0M649.70,141.74h0M654.00,141.74h0M658.31,141.74h0M662.61,141.74h0M666.91,141.74h0M372.12,146.04h0M376.43,146.04h0M380.73,146.04h0M385.03,146.04h0M389.34,146.04h0M393.64,146.04h0M397.94,146.04h0M402.25,146.04h0M406.55,146.04h0M410.85,146.04h0M415.16,146.04h0M419.46,146.04h0M423.76,146.04h0M428.07,146.04h0M432.37,146.04h0M436.68,146.04h0M440.98,146.04h0M445.28,146.04h0M449.59,146.04h0M453.89,146.04h0M458.19,146.04h0M462.50,146.04h0M466.80,146.04h0M471.10,146.04h0M475.41,146.04h0M479.71,146.04h0M484.01,146.04h0M488.32,146.04h0M492.62,146.04h0M496.92,146.04h0M501.23,146.04h0M505.53,146.04h0M509.83,146.04h0M514.14,146.04h0M518.44,146.04h0M522.75,146.04h0M527.05,146.04h0M531.35,146.04h0M535.66,146.04h0M539.96,146.04h0M544.26,146.04h0M548.57,146.04h0M552.87,146.04h0M557.17,146.04h0M561.48,146.04h0M565.78,146.04h0M570.08,146.04h0M574.39,146.04h0M578.69,146.04h0M582.99,146.04h0M587.30,146.04h0M591.60,146.04h0M595.90,146.04h0M600.21,146.04h0M604.51,146.04h0M608.82,146.04h0M613.12,146.04h0M617.42,146.04h0M621.73,146.04h0M626.03,146.04h0M630.33,146.04h0M634.64,146.04h0M638.94,146.04h0M643.24,146.04h0M647.55,146.04h0M651.85,146.04h0M656.15,146.04h0M660.46,146.04h0M664.76,146.04h0M669.06,146.04h0M374.27,150.34h0M378.58,150.34h0M382.88,150.34h0M387.19,150.34h0M391.49,150.34h0M395.79,150.34h0M400.10,150.34h0M404.40,150.34h0M408.70,150.34h0M413.01,150.34h0M417.31,150.34h0M421.61,150.34h0M425.92,150.34h0M430.22,150.34h0M434.52,150.34h0M438.83,150.34h0M443.13,150.34h0M447.43,150.34h0M451.74,150.34h0M456.04,150.34h0M460.34,150.34h0M464.65,150.34h0M468.95,150.34h0M473.26,150.34h0M477.56,150.34h0M481.86,150.34h0M486.17,150.34h0M490.47,150.34h0M494.77,150.34h0M499.08,150.34h0M503.38,150.34h0M507.68,150.34h0M511.99,150.34h0M516.29,150.34h0M520.59,150.34h0M524.90,150.34h0M529.20,150.34h0M533.50,150.34h0M537.81,150.34h0M542.11,150.34h0M546.41,150.34h0M550.72,150.34h0M555.02,150.34h0M559.33,150.34h0M563.63,150.34h0M567.93,150.34h0M572.24,150.34h0M576.54,150.34h0M580.84,150.34h0M585.15,150.34h0M589.45,150.34h0M593.75,150.34h0M598.06,150.34h0M602.36,150.34h0M606.66,150.34h0M610.97,150.34h0M615.27,150.34h0M619.57,150.34h0M623.88,150.34h0M628.18,150.34h0M632.48,150.34h0M636.79,150.34h0M641.09,150.34h0M645.40,150.34h0M649.70,150.34h0M654.00,150.34h0M658.31,150.34h0M662.61,150.34h0M666.91,150.34h0M372.12,154.64h0M376.43,154.64h0M380.73,154.64h0M385.03,154.64h0M389.34,154.64h0M393.64,154.64h0M397.94,154.64h0M402.25,154.64h0M406.55,154.64h0M410.85,154.64h0M415.16,154.64h0M419.46,154.64h0M423.76,154.64h0M428.07,154.64h0M432.37,154.64h0M436.68,154.64h0M440.98,154.64h0M445.28,154.64h0M449.59,154.64h0M453.89,154.64h0M458.19,154.64h0M462.50,154.64h0M466.80,154.64h0M471.10,154.64h0M475.41,154.64h0M479.71,154.64h0M484.01,154.64h0M488.32,154.64h0M492.62,154.64h0M496.92,154.64h0M501.23,154.64h0M505.53,154.64h0M509.83,154.64h0M514.14,154.64h0M518.44,154.64h0M522.75,154.64h0M527.05,154.64h0M531.35,154.64h0M535.66,154.64h0M539.96,154.64h0M544.26,154.64h0M548.57,154.64h0M552.87,154.64h0M557.17,154.64h0M561.48,154.64h0M565.78,154.64h0M570.08,154.64h0M574.39,154.64h0M578.69,154.64h0M582.99,154.64h0M587.30,154.64h0M591.60,154.64h0M595.90,154.64h0M600.21,154.64h0M604.51,154.64h0M608.82,154.64h0M613.12,154.64h0M617.42,154.64h0M621.73,154.64h0M626.03,154.64h0M630.33,154.64h0M634.64,154.64h0M638.94,154.64h0M643.24,154.64h0M647.55,154.64h0M651.85,154.64h0M656.15,154.64h0M660.46,154.64h0M664.76,154.64h0M669.06,154.64h0M374.27,158.94h0M378.58,158.94h0M382.88,158.94h0M387.19,158.94h0M391.49,158.94h0M395.79,158.94h0M400.10,158.94h0M404.40,158.94h0M408.70,158.94h0M413.01,158.94h0M417.31,158.94h0M421.61,158.94h0M425.92,158.94h0M430.22,158.94h0M434.52,158.94h0M438.83,158.94h0M443.13,158.94h0M447.43,158.94h0M451.74,158.94h0M456.04,158.94h0M460.34,158.94h0M464.65,158.94h0M468.95,158.94h0M473.26,158.94h0M477.56,158.94h0M481.86,158.94h0M486.17,158.94h0M490.47,158.94h0M494.77,158.94h0M499.08,158.94h0M503.38,158.94h0M507.68,158.94h0M511.99,158.94h0M516.29,158.94h0M520.59,158.94h0M524.90,158.94h0M529.20,158.94h0M533.50,158.94h0M537.81,158.94h0M542.11,158.94h0M546.41,158.94h0M550.72,158.94h0M555.02,158.94h0M559.33,158.94h0M563.63,158.94h0M567.93,158.94h0M572.24,158.94h0M576.54,158.94h0M580.84,158.94h0M585.15,158.94h0M589.45,158.94h0M593.75,158.94h0M598.06,158.94h0M602.36,158.94h0M606.66,158.94h0M610.97,158.94h0M615.27,158.94h0M619.57,158.94h0M623.88,158.94h0M628.18,158.94h0M632.48,158.94h0M636.79,158.94h0M641.09,158.94h0M645.40,158.94h0M649.70,158.94h0M654.00,158.94h0M658.31,158.94h0M662.61,158.94h0M666.91,158.94h0M372.12,163.24h0M376.43,163.24h0M380.73,163.24h0M385.03,163.24h0M389.34,163.24h0M393.64,163.24h0M397.94,163.24h0M402.25,163.24h0M406.55,163.24h0M410.85,163.24h0M415.16,163.24h0M419.46,163.24h0M423.76,163.24h0M428.07,163.24h0M432.37,163.24h0M436.68,163.24h0M440.98,163.24h0M445.28,163.24h0M449.59,163.24h0M453.89,163.24h0M458.19,163.24h0M462.50,163.24h0M466.80,163.24h0M471.10,163.24h0M475.41,163.24h0M479.71,163.24h0M484.01,163.24h0M488.32,163.24h0M492.62,163.24h0M496.92,163.24h0M501.23,163.24h0M505.53,163.24h0M509.83,163.24h0M514.14,163.24h0M518.44,163.24h0M522.75,163.24h0M527.05,163.24h0M531.35,163.24h0M535.66,163.24h0M539.96,163.24h0M544.26,163.24h0M548.57,163.24h0M552.87,163.24h0M557.17,163.24h0M561.48,163.24h0M565.78,163.24h0M570.08,163.24h0M574.39,163.24h0M578.69,163.24h0M582.99,163.24h0M587.30,163.24h0M591.60,163.24h0M595.90,163.24h0M600.21,163.24h0M604.51,163.24h0M608.82,163.24h0M613.12,163.24h0M617.42,163.24h0M621.73,163.24h0M626.03,163.24h0M630.33,163.24h0M634.64,163.24h0M638.94,163.24h0M643.24,163.24h0M647.55,163.24h0M651.85,163.24h0M656.15,163.24h0M660.46,163.24h0M664.76,163.24h0M669.06,163.24h0M374.27,167.54h0M378.58,167.54h0M382.88,167.54h0M387.19,167.54h0M391.49,167.54h0M395.79,167.54h0M400.10,167.54h0M404.40,167.54h0M408.70,167.54h0M413.01,167.54h0M417.31,167.54h0M421.61,167.54h0M425.92,167.54h0M430.22,167.54h0M434.52,167.54h0M438.83,167.54h0M443.13,167.54h0M447.43,167.54h0M451.74,167.54h0M456.04,167.54h0M460.34,167.54h0M464.65,167.54h0M468.95,167.54h0M473.26,167.54h0M477.56,167.54h0M481.86,167.54h0M486.17,167.54h0M490.47,167.54h0M494.77,167.54h0M499.08,167.54h0M503.38,167.54h0M507.68,167.54h0M511.99,167.54h0M516.29,167.54h0M520.59,167.54h0M524.90,167.54h0M529.20,167.54h0M533.50,167.54h0M537.81,167.54h0M542.11,167.54h0M546.41,167.54h0M550.72,167.54h0M555.02,167.54h0M559.33,167.54h0M563.63,167.54h0M567.93,167.54h0M572.24,167.54h0M576.54,167.54h0M580.84,167.54h0M585.15,167.54h0M589.45,167.54h0M593.75,167.54h0M598.06,167.54h0M602.36,167.54h0M606.66,167.54h0M610.97,167.54h0M615.27,167.54h0M619.57,167.54h0M623.88,167.54h0M628.18,167.54h0M632.48,167.54h0M636.79,167.54h0M641.09,167.54h0M645.40,167.54h0M649.70,167.54h0M654.00,167.54h0M658.31,167.54h0M662.61,167.54h0M666.91,167.54h0M372.12,171.84h0M376.43,171.84h0M380.73,171.84h0M385.03,171.84h0M389.34,171.84h0M393.64,171.84h0M397.94,171.84h0M402.25,171.84h0M406.55,171.84h0M410.85,171.84h0M415.16,171.84h0M419.46,171.84h0M423.76,171.84h0M428.07,171.84h0M432.37,171.84h0M436.68,171.84h0M440.98,171.84h0M445.28,171.84h0M449.59,171.84h0M453.89,171.84h0M458.19,171.84h0M462.50,171.84h0M466.80,171.84h0M471.10,171.84h0M475.41,171.84h0M479.71,171.84h0M484.01,171.84h0M488.32,171.84h0M492.62,171.84h0M496.92,171.84h0M501.23,171.84h0M505.53,171.84h0M509.83,171.84h0M514.14,171.84h0M518.44,171.84h0M522.75,171.84h0M527.05,171.84h0M531.35,171.84h0M535.66,171.84h0M539.96,171.84h0M544.26,171.84h0M548.57,171.84h0M552.87,171.84h0M557.17,171.84h0M561.48,171.84h0M565.78,171.84h0M570.08,171.84h0M574.39,171.84h0M578.69,171.84h0M582.99,171.84h0M587.30,171.84h0M591.60,171.84h0M595.90,171.84h0M600.21,171.84h0M604.51,171.84h0M608.82,171.84h0M613.12,171.84h0M617.42,171.84h0M621.73,171.84h0M626.03,171.84h0M630.33,171.84h0M634.64,171.84h0M638.94,171.84h0M643.24,171.84h0M647.55,171.84h0M651.85,171.84h0M656.15,171.84h0M660.46,171.84h0M664.76,171.84h0M669.06,171.84h0M374.27,176.14h0M378.58,176.14h0M382.88,176.14h0M387.19,176.14h0M391.49,176.14h0M395.79,176.14h0M400.10,176.14h0M404.40,176.14h0M408.70,176.14h0M413.01,176.14h0M417.31,176.14h0M421.61,176.14h0M425.92,176.14h0M430.22,176.14h0M434.52,176.14h0M438.83,176.14h0M443.13,176.14h0M447.43,176.14h0M451.74,176.14h0M456.04,176.14h0M460.34,176.14h0M464.65,176.14h0M468.95,176.14h0M473.26,176.14h0M477.56,176.14h0M481.86,176.14h0M486.17,176.14h0M490.47,176.14h0M494.77,176.14h0M499.08,176.14h0M503.38,176.14h0M507.68,176.14h0M511.99,176.14h0M516.29,176.14h0M520.59,176.14h0M524.90,176.14h0M529.20,176.14h0M533.50,176.14h0M537.81,176.14h0M542.11,176.14h0M546.41,176.14h0M550.72,176.14h0M555.02,176.14h0M559.33,176.14h0M563.63,176.14h0M567.93,176.14h0M572.24,176.14h0M576.54,176.14h0M580.84,176.14h0M585.15,176.14h0M589.45,176.14h0M593.75,176.14h0M598.06,176.14h0M602.36,176.14h0M606.66,176.14h0M610.97,176.14h0M615.27,176.14h0M619.57,176.14h0M623.88,176.14h0M628.18,176.14h0M632.48,176.14h0M636.79,176.14h0M641.09,176.14h0M645.40,176.14h0M649.70,176.14h0M654.00,176.14h0M658.31,176.14h0M662.61,176.14h0M666.91,176.14h0M372.12,180.44h0M376.43,180.44h0M380.73,180.44h0M385.03,180.44h0M389.34,180.44h0M393.64,180.44h0M397.94,180.44h0M402.25,180.44h0M406.55,180.44h0M410.85,180.44h0M415.16,180.44h0M419.46,180.44h0M423.76,180.44h0M428.07,180.44h0M432.37,180.44h0M436.68,180.44h0M440.98,180.44h0M445.28,180.44h0M449.59,180.44h0M453.89,180.44h0M458.19,180.44h0M462.50,180.44h0M466.80,180.44h0M471.10,180.44h0M475.41,180.44h0M479.71,180.44h0M484.01,180.44h0M488.32,180.44h0M492.62,180.44h0M496.92,180.44h0M501.23,180.44h0M505.53,180.44h0M509.83,180.44h0M514.14,180.44h0M518.44,180.44h0M522.75,180.44h0M527.05,180.44h0M531.35,180.44h0M535.66,180.44h0M539.96,180.44h0M544.26,180.44h0M548.57,180.44h0M552.87,180.44h0M557.17,180.44h0M561.48,180.44h0M565.78,180.44h0M570.08,180.44h0M574.39,180.44h0M578.69,180.44h0M582.99,180.44h0M587.30,180.44h0M591.60,180.44h0M595.90,180.44h0M600.21,180.44h0M604.51,180.44h0M608.82,180.44h0M613.12,180.44h0M617.42,180.44h0M621.73,180.44h0M626.03,180.44h0M630.33,180.44h0M634.64,180.44h0M638.94,180.44h0M643.24,180.44h0M647.55,180.44h0M651.85,180.44h0M656.15,180.44h0M660.46,180.44h0M664.76,180.44h0M669.06,180.44h0M374.27,184.74h0M378.58,184.74h0M382.88,184.74h0M387.19,184.74h0M391.49,184.74h0M395.79,184.74h0M400.10,184.74h0M404.40,184.74h0M408.70,184.74h0M413.01,184.74h0M417.31,184.74h0M421.61,184.74h0M425.92,184.74h0M430.22,184.74h0M434.52,184.74h0M438.83,184.74h0M443.13,184.74h0M447.43,184.74h0M451.74,184.74h0M456.04,184.74h0M460.34,184.74h0M464.65,184.74h0M468.95,184.74h0M473.26,184.74h0M477.56,184.74h0M481.86,184.74h0M486.17,184.74h0M490.47,184.74h0M494.77,184.74h0M499.08,184.74h0M503.38,184.74h0M507.68,184.74h0M511.99,184.74h0M516.29,184.74h0M520.59,184.74h0M524.90,184.74h0M533.50,184.74h0M537.81,184.74h0M542.11,184.74h0M546.41,184.74h0M550.72,184.74h0M555.02,184.74h0M559.33,184.74h0M563.63,184.74h0M567.93,184.74h0M572.24,184.74h0M576.54,184.74h0M580.84,184.74h0M585.15,184.74h0M589.45,184.74h0M593.75,184.74h0M598.06,184.74h0M602.36,184.74h0M606.66,184.74h0M610.97,184.74h0M615.27,184.74h0M619.57,184.74h0M623.88,184.74h0M628.18,184.74h0M632.48,184.74h0M636.79,184.74h0M641.09,184.74h0M645.40,184.74h0M649.70,184.74h0M654.00,184.74h0M658.31,184.74h0M662.61,184.74h0M666.91,184.74h0M372.12,189.04h0M376.43,189.04h0M380.73,189.04h0M385.03,189.04h0M389.34,189.04h0M393.64,189.04h0M397.94,189.04h0M402.25,189.04h0M406.55,189.04h0M410.85,189.04h0M415.16,189.04h0M419.46,189.04h0M423.76,189.04h0M428.07,189.04h0M432.37,189.04h0M436.68,189.04h0M440.98,189.04h0M445.28,189.04h0M449.59,189.04h0M453.89,189.04h0M458.19,189.04h0M462.50,189.04h0M466.80,189.04h0M471.10,189.04h0M475.41,189.04h0M479.71,189.04h0M484.01,189.04h0M488.32,189.04h0M492.62,189.04h0M496.92,189.04h0M501.23,189.04h0M505.53,189.04h0M509.83,189.04h0M514.14,189.04h0M518.44,189.04h0M522.75,189.04h0M535.66,189.04h0M539.96,189.04h0M544.26,189.04h0M548.57,189.04h0M552.87,189.04h0M557.17,189.04h0M561.48,189.04h0M565.78,189.04h0M570.08,189.04h0M574.39,189.04h0M578.69,189.04h0M582.99,189.04h0M587.30,189.04h0M591.60,189.04h0M595.90,189.04h0M600.21,189.04h0M604.51,189.04h0M608.82,189.04h0M613.12,189.04h0M617.42,189.04h0M621.73,189.04h0M626.03,189.04h0M630.33,189.04h0M634.64,189.04h0M638.94,189.04h0M643.24,189.04h0M647.55,189.04h0M651.85,189.04h0M656.15,189.04h0M660.46,189.04h0M664.76,189.04h0M669.06,189.04h0M374.27,193.34h0M378.58,193.34h0M382.88,193.34h0M387.19,193.34h0M391.49,193.34h0M395.79,193.34h0M400.10,193.34h0M404.40,193.34h0M408.70,193.34h0M413.01,193.34h0M417.31,193.34h0M421.61,193.34h0M425.92,193.34h0M430.22,193.34h0M434.52,193.34h0M438.83,193.34h0M443.13,193.34h0M447.43,193.34h0M451.74,193.34h0M456.04,193.34h0M460.34,193.34h0M464.65,193.34h0M468.95,193.34h0M473.26,193.34h0M477.56,193.34h0M481.86,193.34h0M486.17,193.34h0M490.47,193.34h0M494.77,193.34h0M499.08,193.34h0M503.38,193.34h0M507.68,193.34h0M511.99,193.34h0M516.29,193.34h0M520.59,193.34h0M537.81,193.34h0M542.11,193.34h0M546.41,193.34h0M550.72,193.34h0M555.02,193.34h0M559.33,193.34h0M563.63,193.34h0M567.93,193.34h0M572.24,193.34h0M576.54,193.34h0M580.84,193.34h0M585.15,193.34h0M589.45,193.34h0M593.75,193.34h0M598.06,193.34h0M602.36,193.34h0M606.66,193.34h0M610.97,193.34h0M615.27,193.34h0M619.57,193.34h0M623.88,193.34h0M628.18,193.34h0M632.48,193.34h0M636.79,193.34h0M641.09,193.34h0M645.40,193.34h0M649.70,193.34h0M654.00,193.34h0M658.31,193.34h0M662.61,193.34h0M666.91,193.34h0M372.12,197.64h0M376.43,197.64h0M380.73,197.64h0M385.03,197.64h0M389.34,197.64h0M393.64,197.64h0M397.94,197.64h0M402.25,197.64h0M406.55,197.64h0M410.85,197.64h0M415.16,197.64h0M419.46,197.64h0M423.76,197.64h0M428.07,197.64h0M432.37,197.64h0M436.68,197.64h0M440.98,197.64h0M445.28,197.64h0M449.59,197.64h0M453.89,197.64h0M458.19,197.64h0M462.50,197.64h0M466.80,197.64h0M471.10,197.64h0M475.41,197.64h0M479.71,197.64h0M484.01,197.64h0M488.32,197.64h0M492.62,197.64h0M496.92,197.64h0M501.23,197.64h0M505.53,197.64h0M509.83,197.64h0M514.14,197.64h0M518.44,197.64h0M522.75,197.64h0M539.96,197.64h0M544.26,197.64h0M548.57,197.64h0M552.87,197.64h0M557.17,197.64h0M561.48,197.64h0M565.78,197.64h0M570.08,197.64h0M574.39,197.64h0M578.69,197.64h0M582.99,197.64h0M587.30,197.64h0M591.60,197.64h0M595.90,197.64h0M600.21,197.64h0M604.51,197.64h0M608.82,197.64h0M613.12,197.64h0M617.42,197.64h0M621.73,197.64h0M626.03,197.64h0M630.33,197.64h0M634.64,197.64h0M638.94,197.64h0M643.24,197.64h0M647.55,197.64h0M651.85,197.64h0M656.15,197.64h0M660.46,197.64h0M664.76,197.64h0M669.06,197.64h0M374.27,201.94h0M378.58,201.94h0M382.88,201.94h0M387.19,201.94h0M391.49,201.94h0M395.79,201.94h0M400.10,201.94h0M404.40,201.94h0M408.70,201.94h0M413.01,201.94h0M417.31,201.94h0M421.61,201.94h0M425.92,201.94h0M430.22,201.94h0M434.52,201.94h0M438.83,201.94h0M443.13,201.94h0M447.43,201.94h0M451.74,201.94h0M456.04,201.94h0M460.34,201.94h0M464.65,201.94h0M468.95,201.94h0M473.26,201.94h0M477.56,201.94h0M481.86,201.94h0M486.17,201.94h0M490.47,201.94h0M494.77,201.94h0M499.08,201.94h0M503.38,201.94h0M507.68,201.94h0M511.99,201.94h0M516.29,201.94h0M520.59,201.94h0M542.11,201.94h0M546.41,201.94h0M550.72,201.94h0M555.02,201.94h0M559.33,201.94h0M563.63,201.94h0M567.93,201.94h0M572.24,201.94h0M576.54,201.94h0M580.84,201.94h0M585.15,201.94h0M589.45,201.94h0M593.75,201.94h0M598.06,201.94h0M602.36,201.94h0M606.66,201.94h0M610.97,201.94h0M615.27,201.94h0M619.57,201.94h0M623.88,201.94h0M628.18,201.94h0M632.48,201.94h0M636.79,201.94h0M641.09,201.94h0M645.40,201.94h0M649.70,201.94h0M654.00,201.94h0M658.31,201.94h0M662.61,201.94h0M666.91,201.94h0M372.12,206.24h0M376.43,206.24h0M380.73,206.24h0M385.03,206.24h0M389.34,206.24h0M393.64,206.24h0M397.94,206.24h0M402.25,206.24h0M406.55,206.24h0M410.85,206.24h0M415.16,206.24h0M419.46,206.24h0M423.76,206.24h0M428.07,206.24h0M432.37,206.24h0M436.68,206.24h0M440.98,206.24h0M445.28,206.24h0M449.59,206.24h0M453.89,206.24h0M458.19,206.24h0M462.50,206.24h0M466.80,206.24h0M471.10,206.24h0M475.41,206.24h0M479.71,206.24h0M484.01,206.24h0M488.32,206.24h0M492.62,206.24h0M496.92,206.24h0M501.23,206.24h0M505.53,206.24h0M509.83,206.24h0M514.14,206.24h0M518.44,206.24h0M522.75,206.24h0M539.96,206.24h0M544.26,206.24h0M548.57,206.24h0M552.87,206.24h0M557.17,206.24h0M561.48,206.24h0M565.78,206.24h0M570.08,206.24h0M574.39,206.24h0M578.69,206.24h0M582.99,206.24h0M587.30,206.24h0M591.60,206.24h0M595.90,206.24h0M600.21,206.24h0M604.51,206.24h0M608.82,206.24h0M613.12,206.24h0M617.42,206.24h0M621.73,206.24h0M626.03,206.24h0M630.33,206.24h0M634.64,206.24h0M638.94,206.24h0M643.24,206.24h0M647.55,206.24h0M651.85,206.24h0M656.15,206.24h0M660.46,206.24h0M664.76,206.24h0M669.06,206.24h0" fill="none" stroke="#000" stroke-width="1.68" stroke-linecap="round"/>
</g>
<rect x="30.6" y="57.6" width="299.0" height="149.3" fill="none" stroke="#000" stroke-width="1.35"/>
<line x1="28.0" y1="57.6" x2="30.6" y2="57.6" stroke="#111" stroke-width="0.9"/>
<text x="25.6" y="61.0" text-anchor="end" class="tk">25°N</text>
<line x1="28.0" y1="107.4" x2="30.6" y2="107.4" stroke="#111" stroke-width="0.9"/>
<text x="25.6" y="110.8" text-anchor="end" class="tk">20°N</text>
<line x1="28.0" y1="157.1" x2="30.6" y2="157.1" stroke="#111" stroke-width="0.9"/>
<text x="25.6" y="160.5" text-anchor="end" class="tk">15°N</text>
<line x1="30.6" y1="206.9" x2="30.6" y2="209.6" stroke="#111" stroke-width="0.9"/>
<text x="30.6" y="219.8" text-anchor="middle" class="tk">90°E</text>
<line x1="130.3" y1="206.9" x2="130.3" y2="209.6" stroke="#111" stroke-width="0.9"/>
<text x="130.3" y="219.8" text-anchor="middle" class="tk">100°E</text>
<line x1="229.9" y1="206.9" x2="229.9" y2="209.6" stroke="#111" stroke-width="0.9"/>
<text x="229.9" y="219.8" text-anchor="middle" class="tk">110°E</text>
<line x1="329.6" y1="206.9" x2="329.6" y2="209.6" stroke="#111" stroke-width="0.9"/>
<text x="329.6" y="219.8" text-anchor="middle" class="tk">120°E</text>
<rect x="372.1" y="57.6" width="299.0" height="149.3" fill="none" stroke="#000" stroke-width="1.35"/>
<line x1="369.5" y1="57.6" x2="372.1" y2="57.6" stroke="#111" stroke-width="0.9"/>
<text x="367.1" y="61.0" text-anchor="end" class="tk">25°N</text>
<line x1="369.5" y1="107.4" x2="372.1" y2="107.4" stroke="#111" stroke-width="0.9"/>
<text x="367.1" y="110.8" text-anchor="end" class="tk">20°N</text>
<line x1="369.5" y1="157.1" x2="372.1" y2="157.1" stroke="#111" stroke-width="0.9"/>
<text x="367.1" y="160.5" text-anchor="end" class="tk">15°N</text>
<line x1="372.1" y1="206.9" x2="372.1" y2="209.6" stroke="#111" stroke-width="0.9"/>
<text x="372.1" y="219.8" text-anchor="middle" class="tk">90°E</text>
<line x1="471.8" y1="206.9" x2="471.8" y2="209.6" stroke="#111" stroke-width="0.9"/>
<text x="471.8" y="219.8" text-anchor="middle" class="tk">100°E</text>
<line x1="571.4" y1="206.9" x2="571.4" y2="209.6" stroke="#111" stroke-width="0.9"/>
<text x="571.4" y="219.8" text-anchor="middle" class="tk">110°E</text>
<line x1="671.1" y1="206.9" x2="671.1" y2="209.6" stroke="#111" stroke-width="0.9"/>
<text x="671.1" y="219.8" text-anchor="middle" class="tk">120°E</text>
<rect x="263.40" y="231.4" width="14.86" height="9.8" fill="#465ecf"/>
<rect x="277.96" y="231.4" width="14.86" height="9.8" fill="#6282ea"/>
<rect x="292.52" y="231.4" width="14.86" height="9.8" fill="#7ea1fa"/>
<rect x="307.07" y="231.4" width="14.86" height="9.8" fill="#9bbcff"/>
<rect x="321.63" y="231.4" width="14.86" height="9.8" fill="#b9d0f9"/>
<rect x="336.19" y="231.4" width="14.86" height="9.8" fill="#d2dbe8"/>
<rect x="350.75" y="231.4" width="14.86" height="9.8" fill="#e7d7ce"/>
<rect x="365.31" y="231.4" width="14.86" height="9.8" fill="#f5c4ac"/>
<rect x="379.87" y="231.4" width="14.86" height="9.8" fill="#f7a98b"/>
<rect x="394.43" y="231.4" width="14.86" height="9.8" fill="#ef886b"/>
<rect x="408.98" y="231.4" width="14.86" height="9.8" fill="#dd5f4b"/>
<rect x="423.54" y="231.4" width="14.86" height="9.8" fill="#c32e31"/>
<path d="M263.4,231.4 L254.2,236.3 L263.4,241.2 Z" fill="#3b4cc0"/>
<path d="M438.1,231.4 L447.3,236.3 L438.1,241.2 Z" fill="#b40426"/>
<path d="M263.4,231.4 L438.1,231.4 L447.3,236.3 L438.1,241.2 L263.4,241.2 L254.2,236.3 Z" fill="none" stroke="#444" stroke-width="0.6"/>
<line x1="263.4" y1="241.2" x2="263.4" y2="243.39999999999998" stroke="#333" stroke-width="0.7"/>
<text x="263.4" y="253.3" text-anchor="middle" class="cb">-0.3</text>
<line x1="292.5" y1="241.2" x2="292.5" y2="243.39999999999998" stroke="#333" stroke-width="0.7"/>
<text x="292.5" y="253.3" text-anchor="middle" class="cb">-0.2</text>
<line x1="321.6" y1="241.2" x2="321.6" y2="243.39999999999998" stroke="#333" stroke-width="0.7"/>
<text x="321.6" y="253.3" text-anchor="middle" class="cb">-0.1</text>
<line x1="350.8" y1="241.2" x2="350.8" y2="243.39999999999998" stroke="#333" stroke-width="0.7"/>
<text x="350.8" y="253.3" text-anchor="middle" class="cb">0.0</text>
<line x1="379.9" y1="241.2" x2="379.9" y2="243.39999999999998" stroke="#333" stroke-width="0.7"/>
<text x="379.9" y="253.3" text-anchor="middle" class="cb">0.1</text>
<line x1="409.0" y1="241.2" x2="409.0" y2="243.39999999999998" stroke="#333" stroke-width="0.7"/>
<text x="409.0" y="253.3" text-anchor="middle" class="cb">0.2</text>
<line x1="438.1" y1="241.2" x2="438.1" y2="243.39999999999998" stroke="#333" stroke-width="0.7"/>
<text x="438.1" y="253.3" text-anchor="middle" class="cb">0.3</text>
</svg>
</body></html>
